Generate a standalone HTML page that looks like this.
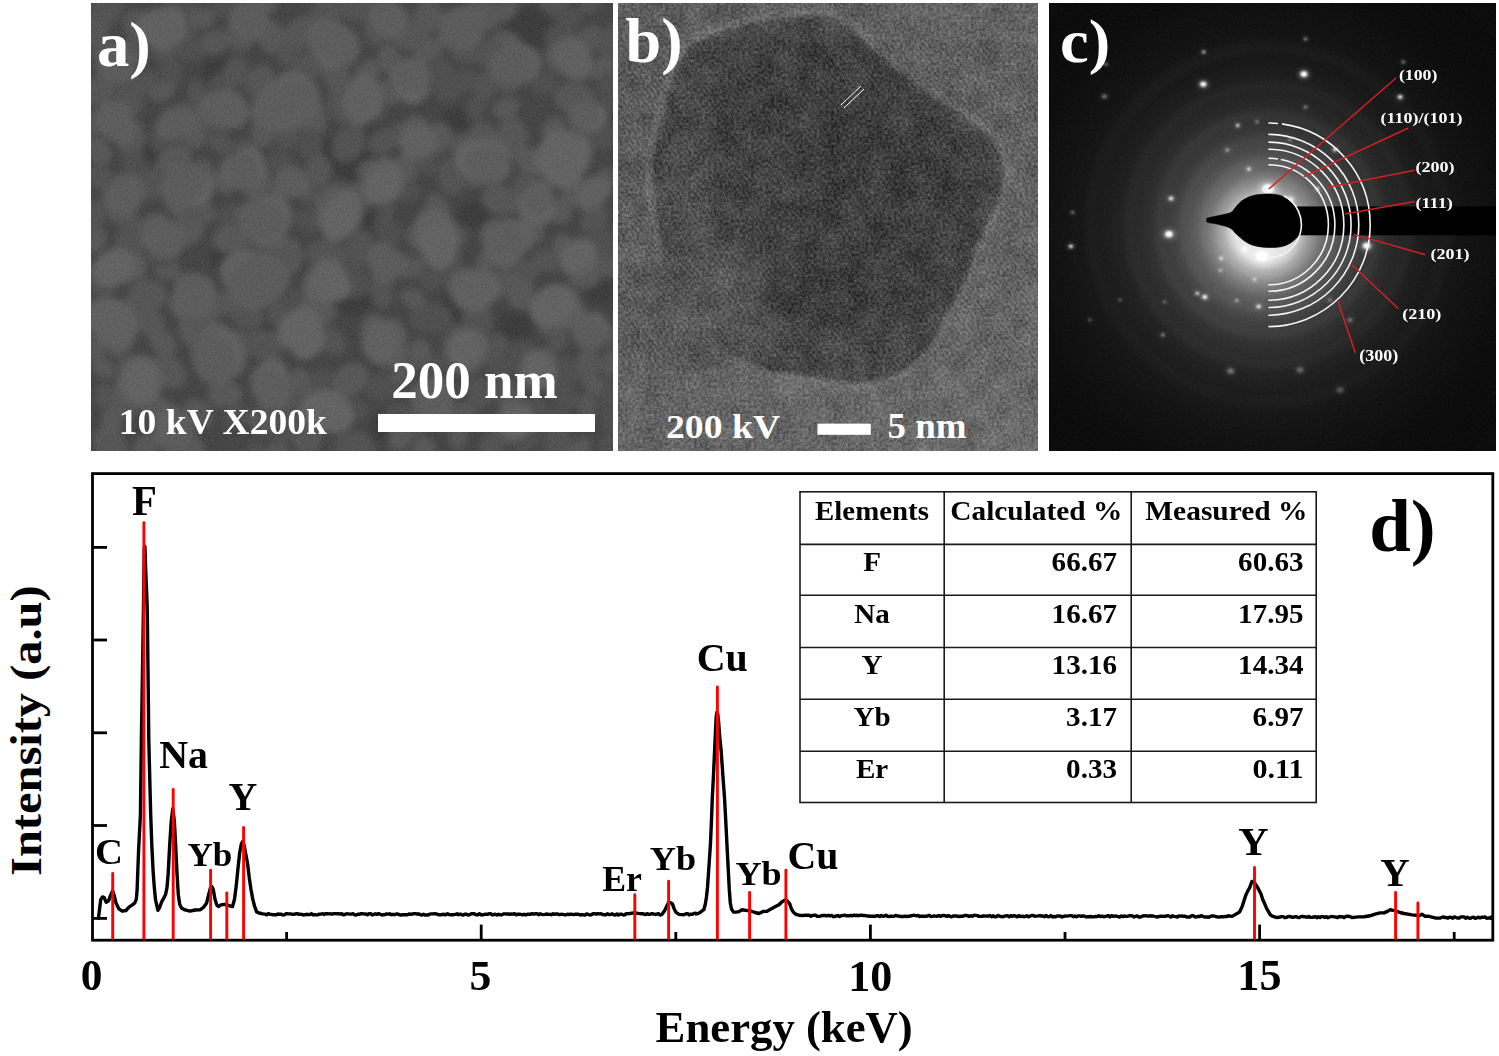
<!DOCTYPE html>
<html><head><meta charset="utf-8"><title>Figure</title>
<style>
html,body{margin:0;padding:0;background:#fff;}
body{width:1499px;height:1056px;overflow:hidden;}
svg{display:block;font-family:"Liberation Serif", serif;font-weight:bold;}
</style></head><body>
<svg width="1499" height="1056" viewBox="0 0 1499 1056">
<defs>
<filter id="blur6" x="-20%" y="-20%" width="140%" height="140%"><feGaussianBlur stdDeviation="6"/></filter>
<filter id="blur3" x="-20%" y="-20%" width="140%" height="140%"><feGaussianBlur stdDeviation="3"/></filter>
<filter id="blur2" x="-50%" y="-50%" width="200%" height="200%"><feGaussianBlur stdDeviation="2"/></filter>
<filter id="blur1" x="-50%" y="-50%" width="200%" height="200%"><feGaussianBlur stdDeviation="0.9"/></filter>
<filter id="blur10" x="-30%" y="-30%" width="160%" height="160%"><feGaussianBlur stdDeviation="10"/></filter>
<filter id="blurS" x="-10%" y="-10%" width="120%" height="120%"><feGaussianBlur stdDeviation="3.1"/></filter>
<filter id="grainS" x="0" y="0" width="100%" height="100%" color-interpolation-filters="sRGB">
  <feTurbulence type="fractalNoise" baseFrequency="0.5" numOctaves="2" seed="9" result="t"/>
  <feColorMatrix in="t" type="matrix" values="1 0 0 0 0  1 0 0 0 0  1 0 0 0 0  0 0 0 0 1" result="g"/>
  <feComposite in="SourceGraphic" in2="g" operator="arithmetic" k1="0" k2="1" k3="0.10" k4="-0.05"/>
</filter>
<filter id="grainT" x="0" y="0" width="100%" height="100%" color-interpolation-filters="sRGB">
  <feTurbulence type="fractalNoise" baseFrequency="0.35" numOctaves="3" seed="4" result="t"/>
  <feColorMatrix in="t" type="matrix" values="1 0 0 0 0  1 0 0 0 0  1 0 0 0 0  0 0 0 0 1" result="g"/>
  <feComposite in="SourceGraphic" in2="g" operator="arithmetic" k1="0" k2="1" k3="0.32" k4="-0.16" result="a"/>
  <feTurbulence type="fractalNoise" baseFrequency="0.045" numOctaves="2" seed="12" result="t2"/>
  <feColorMatrix in="t2" type="matrix" values="1 0 0 0 0  1 0 0 0 0  1 0 0 0 0  0 0 0 0 1" result="g2"/>
  <feComposite in="a" in2="g2" operator="arithmetic" k1="0" k2="1" k3="0.14" k4="-0.07"/>
</filter>
<filter id="grainC" x="0" y="0" width="100%" height="100%" color-interpolation-filters="sRGB">
  <feTurbulence type="fractalNoise" baseFrequency="0.5" numOctaves="2" seed="6" result="t"/>
  <feColorMatrix in="t" type="matrix" values="1 0 0 0 0  1 0 0 0 0  1 0 0 0 0  0 0 0 0 1" result="g"/>
  <feComposite in="SourceGraphic" in2="g" operator="arithmetic" k1="0" k2="1" k3="0.05" k4="-0.025"/>
</filter>
<filter id="noise" x="0" y="0" width="100%" height="100%">
  <feTurbulence type="fractalNoise" baseFrequency="0.9" numOctaves="2" seed="3" result="n"/>
  <feColorMatrix type="matrix" values="0 0 0 0 0.5  0 0 0 0 0.5  0 0 0 0 0.5  0 0 0 1.6 -0.55"/>
</filter>
<radialGradient id="glow" cx="0.5" cy="0.5" r="0.5">
  <stop offset="0.000" stop-color="rgb(235,235,235)"/>
  <stop offset="0.093" stop-color="rgb(228,228,228)"/>
  <stop offset="0.113" stop-color="rgb(208,208,208)"/>
  <stop offset="0.133" stop-color="rgb(178,178,178)"/>
  <stop offset="0.160" stop-color="rgb(145,145,145)"/>
  <stop offset="0.187" stop-color="rgb(118,118,118)"/>
  <stop offset="0.217" stop-color="rgb(98,98,98)"/>
  <stop offset="0.250" stop-color="rgb(83,83,83)"/>
  <stop offset="0.283" stop-color="rgb(71,71,71)"/>
  <stop offset="0.317" stop-color="rgb(61,61,61)"/>
  <stop offset="0.367" stop-color="rgb(50,50,50)"/>
  <stop offset="0.467" stop-color="rgb(35,35,35)"/>
  <stop offset="0.567" stop-color="rgb(25,25,25)"/>
  <stop offset="0.700" stop-color="rgb(18,18,18)"/>
  <stop offset="0.833" stop-color="rgb(13,13,13)"/>
  <stop offset="1.000" stop-color="rgb(11,11,11)"/>
</radialGradient>
<linearGradient id="temBg" x1="0" y1="0" x2="1" y2="1"><stop offset="0" stop-color="#5c5c5c"/><stop offset="1" stop-color="#6b6b6b"/></linearGradient>
<clipPath id="clipA"><rect x="91" y="3" width="522" height="448"/></clipPath>
<clipPath id="clipB"><rect x="618" y="3" width="420" height="448"/></clipPath>
<clipPath id="clipC"><rect x="1049" y="3" width="447" height="448"/></clipPath>
</defs>
<rect x="0" y="0" width="1499" height="1056" fill="#fff"/>

<g clip-path="url(#clipA)"><g filter="url(#grainS)">
<rect x="91" y="3" width="522" height="448" fill="#464646"/>
<g filter="url(#blurS)">
<ellipse cx="354.2" cy="164.3" rx="21.0" ry="17.2" fill="#3d3d3d"/>
<ellipse cx="528.2" cy="28.5" rx="25.6" ry="21.0" fill="#3d3d3d"/>
<ellipse cx="460.3" cy="121.8" rx="18.7" ry="15.3" fill="#3d3d3d"/>
<ellipse cx="456.0" cy="308.6" rx="18.7" ry="15.3" fill="#3d3d3d"/>
<ellipse cx="354.2" cy="300.1" rx="18.7" ry="15.3" fill="#3d3d3d"/>
<ellipse cx="473.0" cy="215.2" rx="16.4" ry="13.4" fill="#3d3d3d"/>
<ellipse cx="226.8" cy="257.7" rx="16.4" ry="13.4" fill="#3d3d3d"/>
<ellipse cx="141.9" cy="151.6" rx="16.4" ry="13.4" fill="#3d3d3d"/>
<ellipse cx="218.3" cy="70.9" rx="16.4" ry="13.4" fill="#3d3d3d"/>
<ellipse cx="600.3" cy="291.6" rx="16.4" ry="13.4" fill="#3d3d3d"/>
<ellipse cx="388.1" cy="427.4" rx="18.7" ry="15.3" fill="#3d3d3d"/>
<ellipse cx="515.4" cy="325.6" rx="18.7" ry="15.3" fill="#3d3d3d"/>
<ellipse cx="324.4" cy="151.6" rx="16.4" ry="13.4" fill="#3d3d3d"/>
<ellipse cx="260.8" cy="317.1" rx="16.4" ry="13.4" fill="#3d3d3d"/>
<ellipse cx="358.4" cy="130.3" rx="14.0" ry="11.4" fill="#3d3d3d"/>
<ellipse cx="362.6" cy="223.7" rx="16.4" ry="13.4" fill="#3d3d3d"/>
<ellipse transform="rotate(1 326.9 254.1)" cx="326.9" cy="254.1" rx="21.2" ry="15.6" fill="#535353"/>
<ellipse transform="rotate(164 185.5 232.4)" cx="185.5" cy="232.4" rx="18.4" ry="13.6" fill="#595959"/>
<ellipse transform="rotate(14 506.7 42.7)" cx="506.7" cy="42.7" rx="15.4" ry="11.4" fill="#595959"/>
<ellipse transform="rotate(175 135.9 367.6)" cx="135.9" cy="367.6" rx="19.0" ry="14.1" fill="#565656"/>
<ellipse transform="rotate(66 110.1 445.9)" cx="110.1" cy="445.9" rx="21.5" ry="15.9" fill="#565656"/>
<ellipse transform="rotate(157 433.3 279.5)" cx="433.3" cy="279.5" rx="14.1" ry="10.4" fill="#505050"/>
<ellipse transform="rotate(110 95.9 239.9)" cx="95.9" cy="239.9" rx="13.2" ry="9.8" fill="#595959"/>
<ellipse transform="rotate(147 188.4 109.8)" cx="188.4" cy="109.8" rx="12.9" ry="9.6" fill="#505050"/>
<ellipse transform="rotate(143 333.0 200.0)" cx="333.0" cy="200.0" rx="20.4" ry="15.1" fill="#595959"/>
<ellipse transform="rotate(58 437.8 207.6)" cx="437.8" cy="207.6" rx="15.2" ry="11.2" fill="#565656"/>
<ellipse transform="rotate(61 614.8 452.0)" cx="614.8" cy="452.0" rx="20.4" ry="15.1" fill="#505050"/>
<ellipse transform="rotate(165 461.7 143.1)" cx="461.7" cy="143.1" rx="14.8" ry="10.9" fill="#535353"/>
<ellipse transform="rotate(88 240.6 31.9)" cx="240.6" cy="31.9" rx="19.7" ry="14.6" fill="#565656"/>
<ellipse transform="rotate(89 299.4 384.3)" cx="299.4" cy="384.3" rx="16.2" ry="12.0" fill="#595959"/>
<ellipse transform="rotate(42 593.8 384.7)" cx="593.8" cy="384.7" rx="12.7" ry="9.4" fill="#595959"/>
<ellipse transform="rotate(42 198.7 413.3)" cx="198.7" cy="413.3" rx="17.0" ry="12.5" fill="#565656"/>
<ellipse transform="rotate(108 605.6 180.4)" cx="605.6" cy="180.4" rx="13.3" ry="9.8" fill="#565656"/>
<ellipse transform="rotate(84 420.4 353.4)" cx="420.4" cy="353.4" rx="15.1" ry="11.2" fill="#595959"/>
<ellipse transform="rotate(114 488.2 53.6)" cx="488.2" cy="53.6" rx="14.9" ry="11.0" fill="#535353"/>
<ellipse transform="rotate(43 141.4 27.2)" cx="141.4" cy="27.2" rx="20.0" ry="14.8" fill="#565656"/>
<ellipse transform="rotate(65 188.7 332.3)" cx="188.7" cy="332.3" rx="13.9" ry="10.2" fill="#595959"/>
<ellipse transform="rotate(128 427.9 52.9)" cx="427.9" cy="52.9" rx="16.5" ry="12.2" fill="#595959"/>
<ellipse transform="rotate(89 512.2 138.1)" cx="512.2" cy="138.1" rx="20.8" ry="15.4" fill="#565656"/>
<ellipse transform="rotate(109 199.3 179.0)" cx="199.3" cy="179.0" rx="20.5" ry="15.2" fill="#565656"/>
<ellipse transform="rotate(69 261.7 134.5)" cx="261.7" cy="134.5" rx="13.3" ry="9.8" fill="#595959"/>
<ellipse transform="rotate(71 135.6 264.6)" cx="135.6" cy="264.6" rx="14.9" ry="11.0" fill="#595959"/>
<ellipse transform="rotate(104 405.5 168.8)" cx="405.5" cy="168.8" rx="16.8" ry="12.4" fill="#595959"/>
<ellipse transform="rotate(101 594.4 219.6)" cx="594.4" cy="219.6" rx="17.9" ry="13.3" fill="#535353"/>
<ellipse transform="rotate(134 545.5 83.0)" cx="545.5" cy="83.0" rx="14.1" ry="10.4" fill="#505050"/>
<ellipse transform="rotate(64 567.6 371.3)" cx="567.6" cy="371.3" rx="14.9" ry="11.0" fill="#505050"/>
<ellipse transform="rotate(3 406.7 191.3)" cx="406.7" cy="191.3" rx="13.6" ry="10.1" fill="#505050"/>
<ellipse transform="rotate(157 402.9 133.2)" cx="402.9" cy="133.2" rx="14.3" ry="10.5" fill="#565656"/>
<ellipse transform="rotate(174 468.3 31.2)" cx="468.3" cy="31.2" rx="14.8" ry="10.9" fill="#535353"/>
<ellipse transform="rotate(167 383.3 387.0)" cx="383.3" cy="387.0" rx="18.3" ry="13.5" fill="#505050"/>
<ellipse transform="rotate(152 236.0 416.5)" cx="236.0" cy="416.5" rx="14.5" ry="10.7" fill="#505050"/>
<ellipse transform="rotate(173 96.8 122.2)" cx="96.8" cy="122.2" rx="16.8" ry="12.4" fill="#565656"/>
<ellipse transform="rotate(2 119.9 80.0)" cx="119.9" cy="80.0" rx="16.0" ry="11.9" fill="#505050"/>
<ellipse transform="rotate(70 390.1 59.7)" cx="390.1" cy="59.7" rx="16.0" ry="11.8" fill="#595959"/>
<ellipse transform="rotate(88 558.4 445.1)" cx="558.4" cy="445.1" rx="18.7" ry="13.8" fill="#535353"/>
<ellipse transform="rotate(106 453.0 265.3)" cx="453.0" cy="265.3" rx="13.9" ry="10.3" fill="#505050"/>
<ellipse transform="rotate(121 106.5 8.1)" cx="106.5" cy="8.1" rx="21.0" ry="15.5" fill="#535353"/>
<ellipse transform="rotate(86 458.1 437.1)" cx="458.1" cy="437.1" rx="12.8" ry="9.5" fill="#565656"/>
<ellipse transform="rotate(86 256.4 453.7)" cx="256.4" cy="453.7" rx="13.3" ry="9.9" fill="#505050"/>
<ellipse transform="rotate(75 376.3 334.6)" cx="376.3" cy="334.6" rx="20.9" ry="15.5" fill="#595959"/>
<ellipse transform="rotate(87 477.2 319.5)" cx="477.2" cy="319.5" rx="19.9" ry="14.7" fill="#535353"/>
<ellipse transform="rotate(28 571.1 159.7)" cx="571.1" cy="159.7" rx="19.0" ry="14.0" fill="#595959"/>
<ellipse transform="rotate(49 563.6 395.5)" cx="563.6" cy="395.5" rx="16.5" ry="12.2" fill="#505050"/>
<ellipse transform="rotate(16 505.4 392.0)" cx="505.4" cy="392.0" rx="17.9" ry="13.2" fill="#535353"/>
<ellipse transform="rotate(10 409.5 36.4)" cx="409.5" cy="36.4" rx="18.5" ry="13.7" fill="#565656"/>
<ellipse transform="rotate(91 612.5 399.4)" cx="612.5" cy="399.4" rx="19.3" ry="14.3" fill="#505050"/>
<ellipse transform="rotate(41 293.1 333.7)" cx="293.1" cy="333.7" rx="18.0" ry="13.3" fill="#565656"/>
<ellipse transform="rotate(135 320.6 380.6)" cx="320.6" cy="380.6" rx="13.4" ry="9.9" fill="#505050"/>
<ellipse transform="rotate(60 484.1 13.5)" cx="484.1" cy="13.5" rx="18.2" ry="13.4" fill="#595959"/>
<ellipse transform="rotate(82 341.9 104.5)" cx="341.9" cy="104.5" rx="19.1" ry="14.1" fill="#535353"/>
<ellipse transform="rotate(45 350.5 279.0)" cx="350.5" cy="279.0" rx="21.1" ry="15.6" fill="#505050"/>
<ellipse transform="rotate(154 223.1 5.1)" cx="223.1" cy="5.1" rx="15.4" ry="11.4" fill="#505050"/>
<ellipse transform="rotate(15 446.1 92.0)" cx="446.1" cy="92.0" rx="14.2" ry="10.5" fill="#505050"/>
<ellipse transform="rotate(35 566.2 299.6)" cx="566.2" cy="299.6" rx="16.7" ry="12.4" fill="#565656"/>
<ellipse transform="rotate(143 350.1 380.0)" cx="350.1" cy="380.0" rx="20.5" ry="15.1" fill="#595959"/>
<ellipse transform="rotate(59 177.3 204.6)" cx="177.3" cy="204.6" rx="15.2" ry="11.2" fill="#595959"/>
<ellipse transform="rotate(122 348.8 143.2)" cx="348.8" cy="143.2" rx="20.4" ry="15.1" fill="#535353"/>
<ellipse transform="rotate(80 104.6 396.3)" cx="104.6" cy="396.3" rx="13.0" ry="9.6" fill="#535353"/>
<ellipse transform="rotate(126 505.9 8.7)" cx="505.9" cy="8.7" rx="13.9" ry="10.3" fill="#595959"/>
<ellipse transform="rotate(141 328.2 11.2)" cx="328.2" cy="11.2" rx="20.3" ry="15.0" fill="#535353"/>
<ellipse transform="rotate(3 182.3 4.9)" cx="182.3" cy="4.9" rx="17.0" ry="12.6" fill="#505050"/>
<ellipse transform="rotate(155 465.1 81.3)" cx="465.1" cy="81.3" rx="15.2" ry="11.2" fill="#505050"/>
<ellipse transform="rotate(91 580.4 328.0)" cx="580.4" cy="328.0" rx="13.8" ry="10.2" fill="#535353"/>
<ellipse transform="rotate(112 287.0 258.2)" cx="287.0" cy="258.2" rx="20.7" ry="15.3" fill="#565656"/>
<ellipse transform="rotate(51 508.7 428.7)" cx="508.7" cy="428.7" rx="16.9" ry="12.5" fill="#565656"/>
<ellipse transform="rotate(78 520.1 291.3)" cx="520.1" cy="291.3" rx="19.3" ry="14.2" fill="#595959"/>
<ellipse transform="rotate(47 604.0 243.8)" cx="604.0" cy="243.8" rx="19.9" ry="14.7" fill="#505050"/>
<ellipse transform="rotate(89 272.0 37.6)" cx="272.0" cy="37.6" rx="16.7" ry="12.3" fill="#595959"/>
<ellipse transform="rotate(47 103.0 367.3)" cx="103.0" cy="367.3" rx="13.2" ry="9.8" fill="#595959"/>
<ellipse transform="rotate(119 510.3 78.5)" cx="510.3" cy="78.5" rx="15.7" ry="11.6" fill="#565656"/>
<ellipse transform="rotate(124 589.2 39.1)" cx="589.2" cy="39.1" rx="14.7" ry="10.9" fill="#565656"/>
<ellipse transform="rotate(12 425.3 237.3)" cx="425.3" cy="237.3" rx="20.4" ry="15.1" fill="#565656"/>
<ellipse transform="rotate(152 383.7 141.5)" cx="383.7" cy="141.5" rx="16.2" ry="11.9" fill="#535353"/>
<ellipse transform="rotate(139 534.3 408.8)" cx="534.3" cy="408.8" rx="14.6" ry="10.8" fill="#505050"/>
<ellipse transform="rotate(142 390.5 91.2)" cx="390.5" cy="91.2" rx="17.6" ry="13.0" fill="#565656"/>
<ellipse transform="rotate(92 511.0 255.5)" cx="511.0" cy="255.5" rx="17.2" ry="12.7" fill="#535353"/>
<ellipse transform="rotate(82 306.5 434.4)" cx="306.5" cy="434.4" rx="21.1" ry="15.6" fill="#565656"/>
<ellipse transform="rotate(159 230.1 214.8)" cx="230.1" cy="214.8" rx="13.8" ry="10.2" fill="#505050"/>
<ellipse transform="rotate(45 414.2 420.1)" cx="414.2" cy="420.1" rx="13.8" ry="10.2" fill="#595959"/>
<ellipse transform="rotate(129 208.0 311.9)" cx="208.0" cy="311.9" rx="15.6" ry="11.5" fill="#595959"/>
<ellipse transform="rotate(94 275.6 281.4)" cx="275.6" cy="281.4" rx="13.6" ry="10.1" fill="#565656"/>
<ellipse transform="rotate(99 220.3 89.8)" cx="220.3" cy="89.8" rx="17.5" ry="13.0" fill="#505050"/>
<ellipse transform="rotate(89 318.6 170.6)" cx="318.6" cy="170.6" rx="16.5" ry="12.2" fill="#565656"/>
<ellipse transform="rotate(136 367.5 72.5)" cx="367.5" cy="72.5" rx="14.5" ry="10.7" fill="#595959"/>
<ellipse transform="rotate(171 210.8 336.3)" cx="210.8" cy="336.3" rx="20.1" ry="14.9" fill="#595959"/>
<ellipse transform="rotate(14 575.2 99.0)" cx="575.2" cy="99.0" rx="21.8" ry="16.1" fill="#565656"/>
<ellipse transform="rotate(28 556.6 60.8)" cx="556.6" cy="60.8" rx="14.9" ry="11.0" fill="#505050"/>
<ellipse transform="rotate(71 527.4 191.4)" cx="527.4" cy="191.4" rx="19.9" ry="14.7" fill="#535353"/>
<ellipse transform="rotate(135 154.5 182.9)" cx="154.5" cy="182.9" rx="19.0" ry="14.0" fill="#535353"/>
<ellipse transform="rotate(163 97.4 91.2)" cx="97.4" cy="91.2" rx="18.9" ry="14.0" fill="#565656"/>
<ellipse transform="rotate(66 610.9 420.8)" cx="610.9" cy="420.8" rx="13.5" ry="10.0" fill="#505050"/>
<ellipse transform="rotate(138 360.1 195.3)" cx="360.1" cy="195.3" rx="18.2" ry="13.4" fill="#595959"/>
<ellipse transform="rotate(119 95.0 318.3)" cx="95.0" cy="318.3" rx="20.4" ry="15.1" fill="#505050"/>
<ellipse transform="rotate(99 302.0 88.6)" cx="302.0" cy="88.6" rx="14.2" ry="10.5" fill="#595959"/>
<ellipse transform="rotate(12 358.6 7.0)" cx="358.6" cy="7.0" rx="20.9" ry="15.4" fill="#535353"/>
<ellipse transform="rotate(4 354.3 446.1)" cx="354.3" cy="446.1" rx="20.1" ry="14.8" fill="#535353"/>
<ellipse transform="rotate(84 498.8 369.8)" cx="498.8" cy="369.8" rx="16.4" ry="12.1" fill="#505050"/>
<ellipse transform="rotate(144 493.1 347.4)" cx="493.1" cy="347.4" rx="16.4" ry="12.1" fill="#535353"/>
<ellipse transform="rotate(95 458.3 345.8)" cx="458.3" cy="345.8" rx="21.7" ry="16.0" fill="#535353"/>
<ellipse transform="rotate(40 100.0 279.4)" cx="100.0" cy="279.4" rx="19.4" ry="14.4" fill="#535353"/>
<ellipse transform="rotate(52 223.5 182.3)" cx="223.5" cy="182.3" rx="13.1" ry="9.7" fill="#595959"/>
<ellipse transform="rotate(83 111.8 422.3)" cx="111.8" cy="422.3" rx="14.1" ry="10.4" fill="#595959"/>
<ellipse transform="rotate(74 337.1 76.8)" cx="337.1" cy="76.8" rx="17.2" ry="12.7" fill="#565656"/>
<ellipse transform="rotate(158 244.3 6.4)" cx="244.3" cy="6.4" rx="14.9" ry="11.0" fill="#505050"/>
<ellipse transform="rotate(149 293.9 407.5)" cx="293.9" cy="407.5" rx="19.5" ry="14.4" fill="#535353"/>
<ellipse transform="rotate(105 475.7 108.2)" cx="475.7" cy="108.2" rx="13.7" ry="10.1" fill="#505050"/>
<ellipse transform="rotate(119 386.3 268.6)" cx="386.3" cy="268.6" rx="18.5" ry="13.7" fill="#535353"/>
<ellipse transform="rotate(115 485.8 86.2)" cx="485.8" cy="86.2" rx="14.9" ry="11.0" fill="#535353"/>
<ellipse transform="rotate(99 312.5 283.0)" cx="312.5" cy="283.0" rx="13.6" ry="10.0" fill="#565656"/>
<ellipse transform="rotate(77 374.0 32.9)" cx="374.0" cy="32.9" rx="13.4" ry="9.9" fill="#535353"/>
<ellipse transform="rotate(31 285.0 217.3)" cx="285.0" cy="217.3" rx="14.6" ry="10.8" fill="#505050"/>
<ellipse transform="rotate(159 127.3 54.4)" cx="127.3" cy="54.4" rx="20.1" ry="14.9" fill="#565656"/>
<ellipse transform="rotate(84 312.1 117.2)" cx="312.1" cy="117.2" rx="20.1" ry="14.9" fill="#595959"/>
<ellipse transform="rotate(12 259.8 249.1)" cx="259.8" cy="249.1" rx="19.5" ry="14.4" fill="#505050"/>
<ellipse transform="rotate(138 574.2 194.2)" cx="574.2" cy="194.2" rx="16.0" ry="11.9" fill="#595959"/>
<ellipse transform="rotate(81 139.2 397.3)" cx="139.2" cy="397.3" rx="13.4" ry="9.9" fill="#595959"/>
<ellipse transform="rotate(93 131.1 137.9)" cx="131.1" cy="137.9" rx="19.3" ry="14.3" fill="#565656"/>
<ellipse transform="rotate(56 150.0 322.0)" cx="150.0" cy="322.0" rx="17.9" ry="13.2" fill="#565656"/>
<ellipse transform="rotate(75 255.7 181.4)" cx="255.7" cy="181.4" rx="21.2" ry="15.7" fill="#595959"/>
<ellipse transform="rotate(66 281.0 164.9)" cx="281.0" cy="164.9" rx="16.3" ry="12.0" fill="#505050"/>
<ellipse transform="rotate(146 553.1 127.8)" cx="553.1" cy="127.8" rx="12.9" ry="9.5" fill="#595959"/>
<ellipse transform="rotate(97 360.3 247.0)" cx="360.3" cy="247.0" rx="17.9" ry="13.2" fill="#535353"/>
<ellipse transform="rotate(14 562.7 38.5)" cx="562.7" cy="38.5" rx="18.5" ry="13.7" fill="#505050"/>
<ellipse transform="rotate(142 461.9 415.4)" cx="461.9" cy="415.4" rx="16.4" ry="12.1" fill="#565656"/>
<ellipse transform="rotate(143 310.0 66.4)" cx="310.0" cy="66.4" rx="19.5" ry="14.4" fill="#535353"/>
<ellipse transform="rotate(12 148.6 294.2)" cx="148.6" cy="294.2" rx="19.8" ry="14.6" fill="#565656"/>
<ellipse transform="rotate(63 182.7 28.3)" cx="182.7" cy="28.3" rx="16.9" ry="12.5" fill="#535353"/>
<ellipse transform="rotate(162 396.4 412.8)" cx="396.4" cy="412.8" rx="13.0" ry="9.6" fill="#505050"/>
<ellipse transform="rotate(136 145.4 83.8)" cx="145.4" cy="83.8" rx="14.6" ry="10.8" fill="#535353"/>
<ellipse transform="rotate(89 588.3 363.8)" cx="588.3" cy="363.8" rx="16.2" ry="12.0" fill="#565656"/>
<ellipse transform="rotate(119 93.7 214.6)" cx="93.7" cy="214.6" rx="16.1" ry="11.9" fill="#535353"/>
<ellipse transform="rotate(81 171.0 71.2)" cx="171.0" cy="71.2" rx="15.6" ry="11.5" fill="#505050"/>
<ellipse transform="rotate(177 225.0 394.6)" cx="225.0" cy="394.6" rx="17.4" ry="12.9" fill="#595959"/>
<ellipse transform="rotate(86 424.3 450.9)" cx="424.3" cy="450.9" rx="15.1" ry="11.2" fill="#595959"/>
<ellipse transform="rotate(130 277.9 311.9)" cx="277.9" cy="311.9" rx="13.6" ry="10.1" fill="#535353"/>
<ellipse transform="rotate(94 385.9 208.0)" cx="385.9" cy="208.0" rx="12.7" ry="9.4" fill="#505050"/>
<ellipse transform="rotate(108 611.6 363.0)" cx="611.6" cy="363.0" rx="14.6" ry="10.8" fill="#565656"/>
<ellipse transform="rotate(122 295.1 302.7)" cx="295.1" cy="302.7" rx="15.0" ry="11.1" fill="#505050"/>
<ellipse transform="rotate(179 263.1 375.4)" cx="263.1" cy="375.4" rx="13.5" ry="10.0" fill="#565656"/>
<ellipse transform="rotate(84 162.4 42.9)" cx="162.4" cy="42.9" rx="18.9" ry="14.0" fill="#535353"/>
<ellipse transform="rotate(156 529.9 269.1)" cx="529.9" cy="269.1" rx="13.5" ry="10.0" fill="#535353"/>
<ellipse transform="rotate(154 302.8 33.0)" cx="302.8" cy="33.0" rx="21.1" ry="15.6" fill="#565656"/>
<ellipse transform="rotate(46 97.8 150.3)" cx="97.8" cy="150.3" rx="15.8" ry="11.7" fill="#595959"/>
<ellipse transform="rotate(44 410.8 71.9)" cx="410.8" cy="71.9" rx="19.7" ry="14.6" fill="#505050"/>
<ellipse transform="rotate(63 564.8 248.9)" cx="564.8" cy="248.9" rx="15.9" ry="11.7" fill="#595959"/>
<ellipse transform="rotate(27 261.8 421.8)" cx="261.8" cy="421.8" rx="16.0" ry="11.8" fill="#565656"/>
<ellipse transform="rotate(34 159.6 410.4)" cx="159.6" cy="410.4" rx="17.6" ry="13.0" fill="#595959"/>
<ellipse transform="rotate(5 183.1 448.1)" cx="183.1" cy="448.1" rx="21.3" ry="15.7" fill="#595959"/>
<ellipse transform="rotate(133 435.6 139.7)" cx="435.6" cy="139.7" rx="18.8" ry="13.9" fill="#595959"/>
<ellipse transform="rotate(148 477.5 173.3)" cx="477.5" cy="173.3" rx="18.1" ry="13.4" fill="#535353"/>
<ellipse transform="rotate(110 426.8 17.2)" cx="426.8" cy="17.2" rx="18.8" ry="13.9" fill="#565656"/>
<ellipse transform="rotate(52 485.0 138.4)" cx="485.0" cy="138.4" rx="18.1" ry="13.4" fill="#565656"/>
<ellipse transform="rotate(134 454.9 238.9)" cx="454.9" cy="238.9" rx="14.9" ry="11.0" fill="#535353"/>
<ellipse transform="rotate(35 439.5 393.4)" cx="439.5" cy="393.4" rx="16.5" ry="12.2" fill="#595959"/>
<ellipse transform="rotate(123 590.1 0.3)" cx="590.1" cy="0.3" rx="14.9" ry="11.0" fill="#535353"/>
<ellipse transform="rotate(16 246.0 147.4)" cx="246.0" cy="147.4" rx="13.2" ry="9.8" fill="#505050"/>
<ellipse transform="rotate(28 530.4 160.8)" cx="530.4" cy="160.8" rx="17.0" ry="12.6" fill="#595959"/>
<ellipse transform="rotate(66 194.7 287.1)" cx="194.7" cy="287.1" rx="14.4" ry="10.7" fill="#535353"/>
<ellipse transform="rotate(60 547.1 323.8)" cx="547.1" cy="323.8" rx="13.9" ry="10.3" fill="#565656"/>
<ellipse transform="rotate(44 129.7 101.3)" cx="129.7" cy="101.3" rx="15.5" ry="11.4" fill="#535353"/>
<ellipse transform="rotate(72 220.5 364.7)" cx="220.5" cy="364.7" rx="13.5" ry="9.9" fill="#505050"/>
<ellipse transform="rotate(52 238.6 343.1)" cx="238.6" cy="343.1" rx="14.9" ry="11.0" fill="#565656"/>
<ellipse transform="rotate(47 331.7 340.8)" cx="331.7" cy="340.8" rx="16.2" ry="12.0" fill="#535353"/>
<ellipse transform="rotate(77 381.6 292.8)" cx="381.6" cy="292.8" rx="16.0" ry="11.8" fill="#535353"/>
<ellipse transform="rotate(158 506.0 108.0)" cx="506.0" cy="108.0" rx="14.0" ry="10.3" fill="#595959"/>
<ellipse transform="rotate(151 120.3 186.4)" cx="120.3" cy="186.4" rx="16.0" ry="11.8" fill="#595959"/>
<ellipse transform="rotate(167 209.4 115.0)" cx="209.4" cy="115.0" rx="17.7" ry="13.1" fill="#595959"/>
<ellipse transform="rotate(30 556.0 210.0)" cx="556.0" cy="210.0" rx="16.3" ry="12.0" fill="#595959"/>
<ellipse transform="rotate(12 201.2 212.3)" cx="201.2" cy="212.3" rx="15.5" ry="11.4" fill="#565656"/>
<ellipse transform="rotate(102 126.4 313.9)" cx="126.4" cy="313.9" rx="16.0" ry="11.8" fill="#595959"/>
<ellipse transform="rotate(112 494.9 235.8)" cx="494.9" cy="235.8" rx="13.2" ry="9.7" fill="#505050"/>
<ellipse transform="rotate(174 167.7 270.3)" cx="167.7" cy="270.3" rx="12.9" ry="9.6" fill="#595959"/>
<ellipse transform="rotate(13 201.9 18.5)" cx="201.9" cy="18.5" rx="12.9" ry="9.5" fill="#595959"/>
<ellipse transform="rotate(2 603.1 135.3)" cx="603.1" cy="135.3" rx="18.8" ry="13.9" fill="#505050"/>
<ellipse transform="rotate(114 235.7 72.0)" cx="235.7" cy="72.0" rx="16.4" ry="12.1" fill="#535353"/>
<ellipse transform="rotate(168 214.6 42.2)" cx="214.6" cy="42.2" rx="15.8" ry="11.7" fill="#565656"/>
<ellipse transform="rotate(42 100.2 177.7)" cx="100.2" cy="177.7" rx="16.0" ry="11.8" fill="#535353"/>
<ellipse transform="rotate(74 259.9 115.0)" cx="259.9" cy="115.0" rx="12.9" ry="9.5" fill="#595959"/>
<ellipse transform="rotate(44 226.3 303.3)" cx="226.3" cy="303.3" rx="14.4" ry="10.6" fill="#565656"/>
<ellipse transform="rotate(153 495.3 284.8)" cx="495.3" cy="284.8" rx="18.4" ry="13.6" fill="#565656"/>
<ellipse transform="rotate(63 305.0 188.7)" cx="305.0" cy="188.7" rx="15.2" ry="11.2" fill="#535353"/>
<ellipse transform="rotate(11 568.3 17.3)" cx="568.3" cy="17.3" rx="13.9" ry="10.3" fill="#505050"/>
<ellipse transform="rotate(148 603.8 68.0)" cx="603.8" cy="68.0" rx="14.4" ry="10.7" fill="#595959"/>
<ellipse transform="rotate(148 526.8 439.8)" cx="526.8" cy="439.8" rx="15.7" ry="11.6" fill="#505050"/>
<ellipse transform="rotate(112 271.0 402.4)" cx="271.0" cy="402.4" rx="15.5" ry="11.5" fill="#535353"/>
<ellipse transform="rotate(68 283.1 129.7)" cx="283.1" cy="129.7" rx="19.5" ry="14.4" fill="#535353"/>
<ellipse transform="rotate(33 369.9 107.6)" cx="369.9" cy="107.6" rx="14.9" ry="11.0" fill="#565656"/>
<ellipse transform="rotate(125 259.6 80.7)" cx="259.6" cy="80.7" rx="17.4" ry="12.8" fill="#565656"/>
<ellipse transform="rotate(5 264.3 344.7)" cx="264.3" cy="344.7" rx="20.4" ry="15.1" fill="#535353"/>
<ellipse transform="rotate(121 580.8 448.9)" cx="580.8" cy="448.9" rx="13.1" ry="9.7" fill="#595959"/>
<ellipse transform="rotate(14 464.6 53.7)" cx="464.6" cy="53.7" rx="13.0" ry="9.6" fill="#535353"/>
<ellipse transform="rotate(122 492.1 445.4)" cx="492.1" cy="445.4" rx="16.2" ry="12.0" fill="#535353"/>
<ellipse transform="rotate(53 122.0 405.3)" cx="122.0" cy="405.3" rx="15.5" ry="11.5" fill="#565656"/>
<ellipse transform="rotate(67 614.5 91.8)" cx="614.5" cy="91.8" rx="20.6" ry="15.2" fill="#505050"/>
<ellipse transform="rotate(124 434.9 368.1)" cx="434.9" cy="368.1" rx="16.0" ry="11.8" fill="#505050"/>
<ellipse transform="rotate(70 424.9 160.7)" cx="424.9" cy="160.7" rx="15.2" ry="11.2" fill="#505050"/>
<ellipse transform="rotate(118 273.0 195.6)" cx="273.0" cy="195.6" rx="12.7" ry="9.4" fill="#535353"/>
<ellipse transform="rotate(128 145.2 448.3)" cx="145.2" cy="448.3" rx="16.6" ry="12.3" fill="#595959"/>
<ellipse transform="rotate(168 579.9 69.0)" cx="579.9" cy="69.0" rx="17.0" ry="12.5" fill="#565656"/>
<ellipse transform="rotate(180 612.2 335.0)" cx="612.2" cy="335.0" rx="15.5" ry="11.5" fill="#535353"/>
<ellipse transform="rotate(132 544.6 378.6)" cx="544.6" cy="378.6" rx="13.7" ry="10.1" fill="#535353"/>
<ellipse transform="rotate(86 235.1 273.8)" cx="235.1" cy="273.8" rx="19.0" ry="14.1" fill="#535353"/>
<ellipse transform="rotate(169 584.9 277.0)" cx="584.9" cy="277.0" rx="15.9" ry="11.8" fill="#595959"/>
<ellipse transform="rotate(80 134.7 165.1)" cx="134.7" cy="165.1" rx="16.1" ry="11.9" fill="#505050"/>
<ellipse transform="rotate(1 431.2 318.3)" cx="431.2" cy="318.3" rx="21.8" ry="16.1" fill="#505050"/>
<ellipse transform="rotate(143 123.1 209.9)" cx="123.1" cy="209.9" rx="16.3" ry="12.1" fill="#595959"/>
<ellipse transform="rotate(86 586.7 406.7)" cx="586.7" cy="406.7" rx="12.9" ry="9.5" fill="#565656"/>
<ellipse transform="rotate(43 169.2 371.6)" cx="169.2" cy="371.6" rx="19.4" ry="14.3" fill="#565656"/>
<ellipse transform="rotate(94 103.1 50.1)" cx="103.1" cy="50.1" rx="15.4" ry="11.4" fill="#565656"/>
<ellipse transform="rotate(61 261.6 222.0)" cx="261.6" cy="222.0" rx="18.7" ry="13.8" fill="#595959"/>
<ellipse transform="rotate(0 352.5 410.4)" cx="352.5" cy="410.4" rx="16.3" ry="12.0" fill="#505050"/>
<ellipse transform="rotate(126 401.3 436.2)" cx="401.3" cy="436.2" rx="16.0" ry="11.8" fill="#595959"/>
<ellipse transform="rotate(173 409.7 267.6)" cx="409.7" cy="267.6" rx="15.5" ry="11.5" fill="#565656"/>
<ellipse transform="rotate(98 520.6 357.9)" cx="520.6" cy="357.9" rx="18.6" ry="13.7" fill="#505050"/>
<ellipse transform="rotate(97 118.0 346.7)" cx="118.0" cy="346.7" rx="13.1" ry="9.7" fill="#505050"/>
<ellipse transform="rotate(104 485.4 263.2)" cx="485.4" cy="263.2" rx="12.7" ry="9.4" fill="#595959"/>
<ellipse transform="rotate(18 500.6 200.0)" cx="500.6" cy="200.0" rx="19.6" ry="14.5" fill="#565656"/>
<ellipse transform="rotate(81 452.1 176.2)" cx="452.1" cy="176.2" rx="19.8" ry="14.6" fill="#535353"/>
<ellipse transform="rotate(148 174.5 158.8)" cx="174.5" cy="158.8" rx="18.1" ry="13.4" fill="#595959"/>
<ellipse transform="rotate(77 308.3 220.6)" cx="308.3" cy="220.6" rx="13.4" ry="9.9" fill="#505050"/>
<ellipse transform="rotate(127 133.6 235.7)" cx="133.6" cy="235.7" rx="21.5" ry="15.9" fill="#535353"/>
<ellipse transform="rotate(176 88.4 30.8)" cx="88.4" cy="30.8" rx="20.0" ry="14.8" fill="#565656"/>
<ellipse transform="rotate(132 346.7 218.9)" cx="346.7" cy="218.9" rx="15.3" ry="11.3" fill="#595959"/>
<ellipse transform="rotate(69 532.1 228.4)" cx="532.1" cy="228.4" rx="15.8" ry="11.7" fill="#595959"/>
<ellipse transform="rotate(5 316.6 311.3)" cx="316.6" cy="311.3" rx="19.7" ry="14.5" fill="#595959"/>
<ellipse transform="rotate(30 246.6 314.1)" cx="246.6" cy="314.1" rx="19.0" ry="14.0" fill="#535353"/>
<ellipse transform="rotate(155 162.2 91.6)" cx="162.2" cy="91.6" rx="12.9" ry="9.6" fill="#595959"/>
<ellipse transform="rotate(14 188.9 50.9)" cx="188.9" cy="50.9" rx="14.5" ry="10.7" fill="#505050"/>
<ellipse transform="rotate(167 370.8 170.5)" cx="370.8" cy="170.5" rx="14.0" ry="10.4" fill="#595959"/>
<ellipse transform="rotate(52 388.0 230.6)" cx="388.0" cy="230.6" rx="16.2" ry="12.0" fill="#505050"/>
<ellipse transform="rotate(74 479.0 393.1)" cx="479.0" cy="393.1" rx="16.0" ry="11.8" fill="#535353"/>
<ellipse transform="rotate(57 267.2 0.5)" cx="267.2" cy="0.5" rx="12.7" ry="9.4" fill="#595959"/>
<ellipse transform="rotate(93 310.3 144.2)" cx="310.3" cy="144.2" rx="16.3" ry="12.1" fill="#505050"/>
<ellipse transform="rotate(152 276.7 453.8)" cx="276.7" cy="453.8" rx="13.1" ry="9.7" fill="#595959"/>
<ellipse transform="rotate(117 558.1 340.1)" cx="558.1" cy="340.1" rx="13.2" ry="9.8" fill="#535353"/>
<ellipse transform="rotate(85 161.9 248.0)" cx="161.9" cy="248.0" rx="21.4" ry="15.8" fill="#505050"/>
<ellipse transform="rotate(33 220.7 143.2)" cx="220.7" cy="143.2" rx="13.6" ry="10.0" fill="#535353"/>
<ellipse transform="rotate(83 287.8 53.1)" cx="287.8" cy="53.1" rx="14.0" ry="10.3" fill="#535353"/>
<ellipse transform="rotate(82 194.5 132.0)" cx="194.5" cy="132.0" rx="16.6" ry="12.2" fill="#595959"/>
<ellipse transform="rotate(34 546.3 260.8)" cx="546.3" cy="260.8" rx="13.8" ry="10.2" fill="#535353"/>
<ellipse transform="rotate(57 441.4 71.7)" cx="441.4" cy="71.7" rx="17.5" ry="13.0" fill="#505050"/>
<ellipse transform="rotate(120 96.0 347.5)" cx="96.0" cy="347.5" rx="14.8" ry="10.9" fill="#565656"/>
<ellipse transform="rotate(131 402.2 372.1)" cx="402.2" cy="372.1" rx="13.3" ry="9.8" fill="#595959"/>
<ellipse transform="rotate(167 554.4 3.2)" cx="554.4" cy="3.2" rx="14.7" ry="10.9" fill="#535353"/>
<ellipse transform="rotate(167 231.2 238.4)" cx="231.2" cy="238.4" rx="18.7" ry="13.9" fill="#595959"/>
<ellipse transform="rotate(173 259.2 290.2)" cx="259.2" cy="290.2" rx="14.0" ry="10.3" fill="#565656"/>
<ellipse transform="rotate(172 606.4 267.4)" cx="606.4" cy="267.4" rx="13.2" ry="9.8" fill="#565656"/>
<ellipse transform="rotate(132 282.3 431.8)" cx="282.3" cy="431.8" rx="15.5" ry="11.5" fill="#505050"/>
<ellipse transform="rotate(21 413.3 298.7)" cx="413.3" cy="298.7" rx="13.5" ry="10.0" fill="#565656"/>
<ellipse transform="rotate(32 339.5 52.0)" cx="339.5" cy="52.0" rx="18.6" ry="13.7" fill="#535353"/>
<ellipse transform="rotate(115 160.4 138.0)" cx="160.4" cy="138.0" rx="14.0" ry="10.3" fill="#505050"/>
<ellipse transform="rotate(178 554.0 419.3)" cx="554.0" cy="419.3" rx="15.1" ry="11.2" fill="#505050"/>
<ellipse transform="rotate(113 388.9 185.2)" cx="388.9" cy="185.2" rx="14.0" ry="10.3" fill="#595959"/>
<ellipse transform="rotate(74 197.1 93.0)" cx="197.1" cy="93.0" rx="12.8" ry="9.5" fill="#535353"/>
<ellipse transform="rotate(46 163.0 342.7)" cx="163.0" cy="342.7" rx="15.2" ry="11.2" fill="#595959"/>
<ellipse transform="rotate(126 614.3 40.3)" cx="614.3" cy="40.3" rx="20.6" ry="15.2" fill="#535353"/>
<ellipse transform="rotate(169 288.8 100.3)" cx="288.8" cy="100.3" rx="31.9" ry="25.1" fill="#5d5d5d"/>
<ellipse transform="rotate(79 294.2 98.7)" cx="294.2" cy="98.7" rx="28.4" ry="22.3" fill="#606060"/>
<ellipse transform="rotate(164 284.0 106.0)" cx="284.0" cy="106.0" rx="32.7" ry="25.7" fill="#5d5d5d"/>
<ellipse transform="rotate(153 563.2 155.4)" cx="563.2" cy="155.4" rx="30.4" ry="23.9" fill="#5b5b5b"/>
<ellipse transform="rotate(80 562.1 158.9)" cx="562.1" cy="158.9" rx="29.8" ry="23.4" fill="#646464"/>
<ellipse transform="rotate(161 563.4 158.3)" cx="563.4" cy="158.3" rx="28.7" ry="22.5" fill="#646464"/>
<ellipse transform="rotate(167 485.0 157.4)" cx="485.0" cy="157.4" rx="24.8" ry="19.4" fill="#606060"/>
<ellipse transform="rotate(39 477.3 162.1)" cx="477.3" cy="162.1" rx="24.6" ry="19.4" fill="#646464"/>
<ellipse transform="rotate(15 487.5 165.3)" cx="487.5" cy="165.3" rx="23.9" ry="18.8" fill="#5d5d5d"/>
<ellipse transform="rotate(25 334.1 43.3)" cx="334.1" cy="43.3" rx="27.0" ry="21.2" fill="#5d5d5d"/>
<ellipse transform="rotate(86 330.6 47.0)" cx="330.6" cy="47.0" rx="22.7" ry="17.8" fill="#606060"/>
<ellipse transform="rotate(39 330.4 39.4)" cx="330.4" cy="39.4" rx="24.6" ry="19.4" fill="#5d5d5d"/>
<ellipse transform="rotate(23 515.3 65.9)" cx="515.3" cy="65.9" rx="23.0" ry="18.0" fill="#606060"/>
<ellipse transform="rotate(178 516.3 63.7)" cx="516.3" cy="63.7" rx="24.8" ry="19.5" fill="#646464"/>
<ellipse transform="rotate(177 511.5 65.9)" cx="511.5" cy="65.9" rx="24.3" ry="19.1" fill="#5b5b5b"/>
<ellipse transform="rotate(178 256.9 279.4)" cx="256.9" cy="279.4" rx="32.3" ry="25.4" fill="#646464"/>
<ellipse transform="rotate(23 250.1 275.3)" cx="250.1" cy="275.3" rx="30.7" ry="24.1" fill="#606060"/>
<ellipse transform="rotate(137 258.7 281.6)" cx="258.7" cy="281.6" rx="32.6" ry="25.6" fill="#5b5b5b"/>
<ellipse transform="rotate(20 437.0 238.4)" cx="437.0" cy="238.4" rx="22.8" ry="17.9" fill="#646464"/>
<ellipse transform="rotate(68 436.4 234.4)" cx="436.4" cy="234.4" rx="27.2" ry="21.4" fill="#606060"/>
<ellipse transform="rotate(85 438.4 246.7)" cx="438.4" cy="246.7" rx="22.9" ry="18.0" fill="#646464"/>
<ellipse transform="rotate(122 182.6 186.6)" cx="182.6" cy="186.6" rx="24.2" ry="19.0" fill="#5d5d5d"/>
<ellipse transform="rotate(31 190.2 184.3)" cx="190.2" cy="184.3" rx="24.8" ry="19.5" fill="#646464"/>
<ellipse transform="rotate(141 183.4 184.8)" cx="183.4" cy="184.8" rx="25.0" ry="19.6" fill="#5b5b5b"/>
<ellipse transform="rotate(15 117.3 321.4)" cx="117.3" cy="321.4" rx="23.2" ry="18.3" fill="#5b5b5b"/>
<ellipse transform="rotate(72 115.2 328.4)" cx="115.2" cy="328.4" rx="25.5" ry="20.0" fill="#5d5d5d"/>
<ellipse transform="rotate(40 111.7 320.6)" cx="111.7" cy="320.6" rx="26.9" ry="21.2" fill="#606060"/>
<ellipse transform="rotate(125 166.2 26.8)" cx="166.2" cy="26.8" rx="20.9" ry="16.4" fill="#646464"/>
<ellipse transform="rotate(15 161.8 28.3)" cx="161.8" cy="28.3" rx="23.5" ry="18.5" fill="#646464"/>
<ellipse transform="rotate(70 162.3 29.5)" cx="162.3" cy="29.5" rx="22.2" ry="17.4" fill="#606060"/>
<ellipse transform="rotate(25 221.2 109.3)" cx="221.2" cy="109.3" rx="20.6" ry="16.2" fill="#606060"/>
<ellipse transform="rotate(164 226.7 112.3)" cx="226.7" cy="112.3" rx="22.0" ry="17.3" fill="#5b5b5b"/>
<ellipse transform="rotate(52 230.7 108.5)" cx="230.7" cy="108.5" rx="21.1" ry="16.5" fill="#5d5d5d"/>
<ellipse transform="rotate(74 358.0 105.3)" cx="358.0" cy="105.3" rx="21.3" ry="16.7" fill="#5d5d5d"/>
<ellipse transform="rotate(87 364.2 97.0)" cx="364.2" cy="97.0" rx="22.9" ry="18.0" fill="#646464"/>
<ellipse transform="rotate(109 364.2 96.5)" cx="364.2" cy="96.5" rx="21.3" ry="16.7" fill="#606060"/>
<ellipse transform="rotate(54 410.4 79.9)" cx="410.4" cy="79.9" rx="20.9" ry="16.4" fill="#606060"/>
<ellipse transform="rotate(91 412.6 81.5)" cx="412.6" cy="81.5" rx="22.7" ry="17.9" fill="#646464"/>
<ellipse transform="rotate(15 409.9 76.3)" cx="409.9" cy="76.3" rx="21.3" ry="16.8" fill="#5d5d5d"/>
<ellipse transform="rotate(26 462.0 28.1)" cx="462.0" cy="28.1" rx="23.1" ry="18.1" fill="#646464"/>
<ellipse transform="rotate(1 460.4 33.8)" cx="460.4" cy="33.8" rx="23.0" ry="18.1" fill="#5b5b5b"/>
<ellipse transform="rotate(151 463.7 24.8)" cx="463.7" cy="24.8" rx="23.6" ry="18.6" fill="#5b5b5b"/>
<ellipse transform="rotate(42 565.7 57.7)" cx="565.7" cy="57.7" rx="19.9" ry="15.7" fill="#5b5b5b"/>
<ellipse transform="rotate(64 574.5 58.2)" cx="574.5" cy="58.2" rx="21.1" ry="16.6" fill="#646464"/>
<ellipse transform="rotate(63 573.4 56.7)" cx="573.4" cy="56.7" rx="20.9" ry="16.4" fill="#606060"/>
<ellipse transform="rotate(6 179.1 121.1)" cx="179.1" cy="121.1" rx="19.2" ry="15.1" fill="#5b5b5b"/>
<ellipse transform="rotate(164 175.9 124.9)" cx="175.9" cy="124.9" rx="20.4" ry="16.0" fill="#646464"/>
<ellipse transform="rotate(165 177.9 124.3)" cx="177.9" cy="124.3" rx="20.7" ry="16.3" fill="#5b5b5b"/>
<ellipse transform="rotate(34 116.8 126.3)" cx="116.8" cy="126.3" rx="19.2" ry="15.1" fill="#646464"/>
<ellipse transform="rotate(58 113.7 120.4)" cx="113.7" cy="120.4" rx="20.0" ry="15.7" fill="#606060"/>
<ellipse transform="rotate(85 117.7 120.7)" cx="117.7" cy="120.7" rx="20.7" ry="16.2" fill="#5d5d5d"/>
<ellipse transform="rotate(97 129.4 192.9)" cx="129.4" cy="192.9" rx="19.3" ry="15.2" fill="#5b5b5b"/>
<ellipse transform="rotate(91 126.2 195.1)" cx="126.2" cy="195.1" rx="20.0" ry="15.7" fill="#5b5b5b"/>
<ellipse transform="rotate(170 122.6 197.6)" cx="122.6" cy="197.6" rx="19.9" ry="15.6" fill="#5d5d5d"/>
<ellipse transform="rotate(107 271.2 217.8)" cx="271.2" cy="217.8" rx="24.3" ry="19.1" fill="#606060"/>
<ellipse transform="rotate(40 266.2 228.8)" cx="266.2" cy="228.8" rx="23.3" ry="18.3" fill="#5d5d5d"/>
<ellipse transform="rotate(5 259.5 218.1)" cx="259.5" cy="218.1" rx="23.2" ry="18.2" fill="#5b5b5b"/>
<ellipse transform="rotate(142 339.0 213.0)" cx="339.0" cy="213.0" rx="24.2" ry="19.0" fill="#5d5d5d"/>
<ellipse transform="rotate(93 345.3 213.0)" cx="345.3" cy="213.0" rx="21.5" ry="16.9" fill="#646464"/>
<ellipse transform="rotate(122 339.1 220.4)" cx="339.1" cy="220.4" rx="21.5" ry="16.9" fill="#646464"/>
<ellipse transform="rotate(83 386.8 176.8)" cx="386.8" cy="176.8" rx="19.6" ry="15.4" fill="#606060"/>
<ellipse transform="rotate(65 384.3 181.4)" cx="384.3" cy="181.4" rx="21.8" ry="17.1" fill="#5d5d5d"/>
<ellipse transform="rotate(133 383.2 185.1)" cx="383.2" cy="185.1" rx="21.0" ry="16.5" fill="#646464"/>
<ellipse transform="rotate(91 533.1 206.7)" cx="533.1" cy="206.7" rx="20.0" ry="15.7" fill="#606060"/>
<ellipse transform="rotate(43 537.2 207.5)" cx="537.2" cy="207.5" rx="18.2" ry="14.3" fill="#646464"/>
<ellipse transform="rotate(105 538.3 197.9)" cx="538.3" cy="197.9" rx="18.8" ry="14.8" fill="#5d5d5d"/>
<ellipse transform="rotate(167 595.2 190.1)" cx="595.2" cy="190.1" rx="16.5" ry="12.9" fill="#606060"/>
<ellipse transform="rotate(148 592.6 189.6)" cx="592.6" cy="189.6" rx="16.1" ry="12.6" fill="#606060"/>
<ellipse transform="rotate(135 591.9 195.8)" cx="591.9" cy="195.8" rx="16.5" ry="13.0" fill="#606060"/>
<ellipse transform="rotate(15 512.2 236.5)" cx="512.2" cy="236.5" rx="22.2" ry="17.4" fill="#606060"/>
<ellipse transform="rotate(75 501.4 244.7)" cx="501.4" cy="244.7" rx="23.1" ry="18.1" fill="#606060"/>
<ellipse transform="rotate(20 502.6 237.6)" cx="502.6" cy="237.6" rx="22.3" ry="17.6" fill="#5d5d5d"/>
<ellipse transform="rotate(95 584.1 256.7)" cx="584.1" cy="256.7" rx="18.4" ry="14.4" fill="#5d5d5d"/>
<ellipse transform="rotate(118 576.9 257.2)" cx="576.9" cy="257.2" rx="20.2" ry="15.8" fill="#5b5b5b"/>
<ellipse transform="rotate(133 577.4 256.2)" cx="577.4" cy="256.2" rx="18.9" ry="14.8" fill="#646464"/>
<ellipse transform="rotate(87 157.9 235.3)" cx="157.9" cy="235.3" rx="21.8" ry="17.1" fill="#5b5b5b"/>
<ellipse transform="rotate(155 164.5 237.5)" cx="164.5" cy="237.5" rx="21.2" ry="16.7" fill="#5b5b5b"/>
<ellipse transform="rotate(38 162.6 237.9)" cx="162.6" cy="237.9" rx="23.4" ry="18.4" fill="#5d5d5d"/>
<ellipse transform="rotate(104 326.3 277.0)" cx="326.3" cy="277.0" rx="21.2" ry="16.6" fill="#5d5d5d"/>
<ellipse transform="rotate(137 325.5 283.0)" cx="325.5" cy="283.0" rx="23.2" ry="18.3" fill="#606060"/>
<ellipse transform="rotate(34 330.8 283.3)" cx="330.8" cy="283.3" rx="20.9" ry="16.4" fill="#646464"/>
<ellipse transform="rotate(160 388.8 265.0)" cx="388.8" cy="265.0" rx="18.8" ry="14.7" fill="#5d5d5d"/>
<ellipse transform="rotate(77 383.2 261.4)" cx="383.2" cy="261.4" rx="19.4" ry="15.2" fill="#5d5d5d"/>
<ellipse transform="rotate(103 386.3 267.3)" cx="386.3" cy="267.3" rx="18.1" ry="14.3" fill="#5b5b5b"/>
<ellipse transform="rotate(20 470.9 287.9)" cx="470.9" cy="287.9" rx="24.0" ry="18.8" fill="#5b5b5b"/>
<ellipse transform="rotate(23 470.9 294.5)" cx="470.9" cy="294.5" rx="20.7" ry="16.3" fill="#646464"/>
<ellipse transform="rotate(174 475.7 289.9)" cx="475.7" cy="289.9" rx="24.5" ry="19.3" fill="#606060"/>
<ellipse transform="rotate(50 558.2 307.5)" cx="558.2" cy="307.5" rx="20.8" ry="16.3" fill="#606060"/>
<ellipse transform="rotate(177 563.6 312.2)" cx="563.6" cy="312.2" rx="21.4" ry="16.8" fill="#5d5d5d"/>
<ellipse transform="rotate(143 552.6 305.3)" cx="552.6" cy="305.3" rx="24.4" ry="19.2" fill="#646464"/>
<ellipse transform="rotate(54 194.8 294.6)" cx="194.8" cy="294.6" rx="24.3" ry="19.1" fill="#5b5b5b"/>
<ellipse transform="rotate(150 192.8 300.4)" cx="192.8" cy="300.4" rx="24.3" ry="19.1" fill="#5b5b5b"/>
<ellipse transform="rotate(131 194.2 297.2)" cx="194.2" cy="297.2" rx="24.3" ry="19.1" fill="#5d5d5d"/>
<ellipse transform="rotate(77 145.2 378.0)" cx="145.2" cy="378.0" rx="23.4" ry="18.4" fill="#5b5b5b"/>
<ellipse transform="rotate(156 137.7 381.9)" cx="137.7" cy="381.9" rx="23.6" ry="18.5" fill="#5d5d5d"/>
<ellipse transform="rotate(90 140.8 381.8)" cx="140.8" cy="381.8" rx="23.0" ry="18.1" fill="#646464"/>
<ellipse transform="rotate(46 221.4 354.1)" cx="221.4" cy="354.1" rx="27.3" ry="21.4" fill="#5d5d5d"/>
<ellipse transform="rotate(64 222.1 352.3)" cx="222.1" cy="352.3" rx="27.3" ry="21.4" fill="#606060"/>
<ellipse transform="rotate(64 213.6 360.2)" cx="213.6" cy="360.2" rx="27.1" ry="21.3" fill="#5b5b5b"/>
<ellipse transform="rotate(56 305.7 334.9)" cx="305.7" cy="334.9" rx="22.0" ry="17.3" fill="#646464"/>
<ellipse transform="rotate(103 306.4 339.2)" cx="306.4" cy="339.2" rx="20.6" ry="16.2" fill="#646464"/>
<ellipse transform="rotate(141 300.0 328.6)" cx="300.0" cy="328.6" rx="24.1" ry="19.0" fill="#646464"/>
<ellipse transform="rotate(22 384.7 347.8)" cx="384.7" cy="347.8" rx="23.7" ry="18.6" fill="#5b5b5b"/>
<ellipse transform="rotate(114 386.3 342.2)" cx="386.3" cy="342.2" rx="24.4" ry="19.2" fill="#5b5b5b"/>
<ellipse transform="rotate(90 380.4 341.5)" cx="380.4" cy="341.5" rx="21.6" ry="16.9" fill="#606060"/>
<ellipse transform="rotate(133 468.1 355.9)" cx="468.1" cy="355.9" rx="20.9" ry="16.4" fill="#5d5d5d"/>
<ellipse transform="rotate(164 466.8 346.5)" cx="466.8" cy="346.5" rx="21.0" ry="16.5" fill="#606060"/>
<ellipse transform="rotate(97 463.2 348.4)" cx="463.2" cy="348.4" rx="18.4" ry="14.5" fill="#646464"/>
<ellipse transform="rotate(165 539.4 363.7)" cx="539.4" cy="363.7" rx="18.6" ry="14.6" fill="#5b5b5b"/>
<ellipse transform="rotate(89 536.3 369.9)" cx="536.3" cy="369.9" rx="20.4" ry="16.0" fill="#606060"/>
<ellipse transform="rotate(42 540.0 372.1)" cx="540.0" cy="372.1" rx="18.3" ry="14.4" fill="#646464"/>
<ellipse transform="rotate(91 594.6 330.4)" cx="594.6" cy="330.4" rx="18.2" ry="14.3" fill="#5d5d5d"/>
<ellipse transform="rotate(122 589.8 330.1)" cx="589.8" cy="330.1" rx="18.9" ry="14.8" fill="#606060"/>
<ellipse transform="rotate(57 590.5 335.2)" cx="590.5" cy="335.2" rx="16.2" ry="12.7" fill="#5b5b5b"/>
<ellipse transform="rotate(97 117.6 265.8)" cx="117.6" cy="265.8" rx="18.2" ry="14.3" fill="#646464"/>
<ellipse transform="rotate(177 119.9 266.7)" cx="119.9" cy="266.7" rx="21.8" ry="17.2" fill="#5d5d5d"/>
<ellipse transform="rotate(139 112.2 267.5)" cx="112.2" cy="267.5" rx="21.4" ry="16.9" fill="#646464"/>
<ellipse transform="rotate(107 270.6 380.2)" cx="270.6" cy="380.2" rx="22.0" ry="17.3" fill="#646464"/>
<ellipse transform="rotate(59 270.8 383.2)" cx="270.8" cy="383.2" rx="20.7" ry="16.3" fill="#606060"/>
<ellipse transform="rotate(46 270.4 390.0)" cx="270.4" cy="390.0" rx="21.9" ry="17.2" fill="#5d5d5d"/>
<ellipse transform="rotate(28 323.9 410.8)" cx="323.9" cy="410.8" rx="21.0" ry="16.5" fill="#5b5b5b"/>
<ellipse transform="rotate(27 330.4 412.6)" cx="330.4" cy="412.6" rx="24.3" ry="19.1" fill="#646464"/>
<ellipse transform="rotate(3 325.7 409.0)" cx="325.7" cy="409.0" rx="24.5" ry="19.2" fill="#646464"/>
<ellipse transform="rotate(100 171.1 427.6)" cx="171.1" cy="427.6" rx="21.7" ry="17.1" fill="#5d5d5d"/>
<ellipse transform="rotate(49 175.7 428.7)" cx="175.7" cy="428.7" rx="19.6" ry="15.4" fill="#646464"/>
<ellipse transform="rotate(89 180.1 431.0)" cx="180.1" cy="431.0" rx="19.3" ry="15.2" fill="#5b5b5b"/>
<ellipse transform="rotate(133 435.6 404.9)" cx="435.6" cy="404.9" rx="20.6" ry="16.2" fill="#606060"/>
<ellipse transform="rotate(145 433.3 397.3)" cx="433.3" cy="397.3" rx="21.1" ry="16.6" fill="#5d5d5d"/>
<ellipse transform="rotate(14 430.2 397.3)" cx="430.2" cy="397.3" rx="20.9" ry="16.4" fill="#5d5d5d"/>
<ellipse transform="rotate(115 511.2 414.6)" cx="511.2" cy="414.6" rx="16.6" ry="13.0" fill="#606060"/>
<ellipse transform="rotate(134 515.9 414.6)" cx="515.9" cy="414.6" rx="16.7" ry="13.1" fill="#5b5b5b"/>
<ellipse transform="rotate(152 516.7 423.2)" cx="516.7" cy="423.2" rx="18.9" ry="14.9" fill="#646464"/>
<ellipse transform="rotate(6 248.0 20.6)" cx="248.0" cy="20.6" rx="19.3" ry="15.2" fill="#5d5d5d"/>
<ellipse transform="rotate(103 251.5 20.7)" cx="251.5" cy="20.7" rx="21.6" ry="17.0" fill="#5d5d5d"/>
<ellipse transform="rotate(53 249.5 21.5)" cx="249.5" cy="21.5" rx="20.9" ry="16.4" fill="#5b5b5b"/>
<ellipse transform="rotate(126 392.5 22.6)" cx="392.5" cy="22.6" rx="18.9" ry="14.9" fill="#5d5d5d"/>
<ellipse transform="rotate(18 387.5 15.8)" cx="387.5" cy="15.8" rx="18.4" ry="14.5" fill="#5d5d5d"/>
<ellipse transform="rotate(118 386.3 18.0)" cx="386.3" cy="18.0" rx="18.9" ry="14.9" fill="#5d5d5d"/>
<ellipse transform="rotate(72 417.8 134.9)" cx="417.8" cy="134.9" rx="19.2" ry="15.1" fill="#5b5b5b"/>
<ellipse transform="rotate(133 418.6 142.6)" cx="418.6" cy="142.6" rx="20.1" ry="15.8" fill="#5d5d5d"/>
<ellipse transform="rotate(5 417.2 142.2)" cx="417.2" cy="142.2" rx="18.7" ry="14.7" fill="#606060"/>
<ellipse transform="rotate(30 240.6 172.1)" cx="240.6" cy="172.1" rx="21.0" ry="16.5" fill="#606060"/>
<ellipse transform="rotate(86 248.8 167.2)" cx="248.8" cy="167.2" rx="21.7" ry="17.1" fill="#606060"/>
<ellipse transform="rotate(77 243.7 170.0)" cx="243.7" cy="170.0" rx="18.2" ry="14.3" fill="#5b5b5b"/>
<ellipse transform="rotate(42 294.2 180.8)" cx="294.2" cy="180.8" rx="17.2" ry="13.5" fill="#5d5d5d"/>
<ellipse transform="rotate(160 288.9 185.0)" cx="288.9" cy="185.0" rx="16.0" ry="12.5" fill="#5d5d5d"/>
<ellipse transform="rotate(72 288.6 182.9)" cx="288.6" cy="182.9" rx="16.1" ry="12.6" fill="#5b5b5b"/>
<ellipse transform="rotate(146 591.2 118.1)" cx="591.2" cy="118.1" rx="17.4" ry="13.7" fill="#646464"/>
<ellipse transform="rotate(147 583.4 114.6)" cx="583.4" cy="114.6" rx="16.6" ry="13.1" fill="#5d5d5d"/>
<ellipse transform="rotate(112 586.2 117.3)" cx="586.2" cy="117.3" rx="16.2" ry="12.8" fill="#5d5d5d"/>
<ellipse transform="rotate(64 120.2 64.0)" cx="120.2" cy="64.0" rx="20.9" ry="16.4" fill="#5b5b5b"/>
<ellipse transform="rotate(76 118.1 62.3)" cx="118.1" cy="62.3" rx="19.9" ry="15.6" fill="#5b5b5b"/>
<ellipse transform="rotate(176 114.0 66.3)" cx="114.0" cy="66.3" rx="19.3" ry="15.2" fill="#5b5b5b"/>
</g>
</g></g>
<text x="96.91" y="66.08" font-size="63.97" textLength="53.93" lengthAdjust="spacingAndGlyphs" fill="#fff">a)</text>
<text x="391.17" y="397.70" font-size="53.08" textLength="166.53" lengthAdjust="spacingAndGlyphs" fill="#fff" >200 nm</text>
<rect x="378" y="414" width="217" height="18" fill="#fff"/>
<text x="118.80" y="433.80" font-size="36.75" textLength="208.15" lengthAdjust="spacingAndGlyphs" fill="#fff" >10 kV X200k</text>
<g clip-path="url(#clipB)"><g filter="url(#grainT)">
<rect x="618" y="3" width="420" height="448" fill="url(#temBg)"/>
<path d="M685.9,49.7 C691.2,43.5 697.9,41.5 705.0,38.0 C712.1,34.5 719.1,31.3 728.3,28.5 C737.5,25.7 750.1,22.8 760.0,21.0 C769.9,19.2 779.0,18.8 787.7,17.8 C796.4,16.8 804.9,15.3 812.0,15.0 C819.1,14.7 824.1,13.9 830.1,15.7 C836.1,17.5 842.3,21.8 848.0,26.0 C853.7,30.2 858.8,36.2 864.1,41.2 C869.4,46.2 874.4,51.0 880.0,56.0 C885.6,61.0 891.7,65.9 898.0,70.9 C904.3,75.9 910.9,81.0 918.0,86.0 C925.1,91.0 933.1,95.8 940.4,100.6 C947.7,105.4 954.9,110.0 962.0,115.0 C969.1,120.0 977.4,125.6 982.9,130.3 C988.4,135.0 991.8,138.1 995.0,143.0 C998.2,147.9 1000.7,153.8 1002.0,160.0 C1003.3,166.2 1003.4,173.6 1003.0,180.0 C1002.6,186.4 1001.6,192.4 999.8,198.2 C998.0,204.0 994.8,209.3 992.0,215.0 C989.2,220.7 985.9,225.4 982.9,232.1 C979.9,238.8 976.8,247.2 974.0,255.0 C971.2,262.8 968.6,272.3 965.9,278.8 C963.2,285.3 960.8,289.1 958.0,294.0 C955.2,298.9 951.7,303.3 948.9,308.5 C946.1,313.7 943.8,319.4 941.0,325.0 C938.2,330.6 935.8,336.9 932.0,342.4 C928.2,347.9 923.0,353.1 918.0,358.0 C913.0,362.9 908.0,368.6 902.3,372.1 C896.6,375.6 890.4,377.2 884.0,379.0 C877.6,380.8 872.1,382.4 864.1,382.7 C856.1,383.0 845.2,382.1 836.0,381.0 C826.8,379.9 817.7,377.7 808.9,376.4 C800.1,375.1 791.5,374.4 783.0,373.0 C774.5,371.6 765.8,370.6 758.0,367.9 C750.2,365.2 743.1,361.2 736.0,357.0 C728.9,352.8 722.1,347.6 715.6,342.4 C709.1,337.2 702.7,331.6 697.0,326.0 C691.3,320.4 685.9,314.8 681.6,308.5 C677.3,302.2 673.8,295.1 671.0,288.0 C668.2,280.9 666.7,274.0 664.7,266.0 C662.7,258.0 660.4,248.5 659.0,240.0 C657.6,231.5 657.2,223.4 656.2,215.1 C655.2,206.8 653.7,198.5 653.0,190.0 C652.3,181.5 651.5,173.4 652.0,164.2 C652.5,155.0 653.9,144.2 656.0,135.0 C658.1,125.8 662.7,116.3 664.7,109.1 C666.7,101.9 666.6,97.7 668.0,92.0 C669.4,86.3 670.2,82.1 673.2,75.1 C676.2,68.0 680.6,55.9 685.9,49.7Z" fill="none" stroke="#777" stroke-width="10" stroke-linejoin="round" filter="url(#blur3)" opacity="0.9"/>
<path d="M685.9,49.7 C691.2,43.5 697.9,41.5 705.0,38.0 C712.1,34.5 719.1,31.3 728.3,28.5 C737.5,25.7 750.1,22.8 760.0,21.0 C769.9,19.2 779.0,18.8 787.7,17.8 C796.4,16.8 804.9,15.3 812.0,15.0 C819.1,14.7 824.1,13.9 830.1,15.7 C836.1,17.5 842.3,21.8 848.0,26.0 C853.7,30.2 858.8,36.2 864.1,41.2 C869.4,46.2 874.4,51.0 880.0,56.0 C885.6,61.0 891.7,65.9 898.0,70.9 C904.3,75.9 910.9,81.0 918.0,86.0 C925.1,91.0 933.1,95.8 940.4,100.6 C947.7,105.4 954.9,110.0 962.0,115.0 C969.1,120.0 977.4,125.6 982.9,130.3 C988.4,135.0 991.8,138.1 995.0,143.0 C998.2,147.9 1000.7,153.8 1002.0,160.0 C1003.3,166.2 1003.4,173.6 1003.0,180.0 C1002.6,186.4 1001.6,192.4 999.8,198.2 C998.0,204.0 994.8,209.3 992.0,215.0 C989.2,220.7 985.9,225.4 982.9,232.1 C979.9,238.8 976.8,247.2 974.0,255.0 C971.2,262.8 968.6,272.3 965.9,278.8 C963.2,285.3 960.8,289.1 958.0,294.0 C955.2,298.9 951.7,303.3 948.9,308.5 C946.1,313.7 943.8,319.4 941.0,325.0 C938.2,330.6 935.8,336.9 932.0,342.4 C928.2,347.9 923.0,353.1 918.0,358.0 C913.0,362.9 908.0,368.6 902.3,372.1 C896.6,375.6 890.4,377.2 884.0,379.0 C877.6,380.8 872.1,382.4 864.1,382.7 C856.1,383.0 845.2,382.1 836.0,381.0 C826.8,379.9 817.7,377.7 808.9,376.4 C800.1,375.1 791.5,374.4 783.0,373.0 C774.5,371.6 765.8,370.6 758.0,367.9 C750.2,365.2 743.1,361.2 736.0,357.0 C728.9,352.8 722.1,347.6 715.6,342.4 C709.1,337.2 702.7,331.6 697.0,326.0 C691.3,320.4 685.9,314.8 681.6,308.5 C677.3,302.2 673.8,295.1 671.0,288.0 C668.2,280.9 666.7,274.0 664.7,266.0 C662.7,258.0 660.4,248.5 659.0,240.0 C657.6,231.5 657.2,223.4 656.2,215.1 C655.2,206.8 653.7,198.5 653.0,190.0 C652.3,181.5 651.5,173.4 652.0,164.2 C652.5,155.0 653.9,144.2 656.0,135.0 C658.1,125.8 662.7,116.3 664.7,109.1 C666.7,101.9 666.6,97.7 668.0,92.0 C669.4,86.3 670.2,82.1 673.2,75.1 C676.2,68.0 680.6,55.9 685.9,49.7Z" fill="#4b4b4b" filter="url(#blur2)"/>
<ellipse cx="712" cy="305" rx="68" ry="62" fill="#585858" filter="url(#blur10)"/>
<ellipse cx="690" cy="320" rx="30" ry="30" fill="#5c5c5c" filter="url(#blur10)"/>
<ellipse cx="690" cy="200" rx="25" ry="60" fill="#515151" filter="url(#blur10)"/>
<path d="M724.9,46.9 C740.3,38.3 783.4,31.6 806.2,32.2 C829.0,32.8 843.1,40.1 861.6,50.6 C880.1,61.1 899.8,81.4 917.0,94.9 C934.2,108.5 953.9,118.4 965.0,131.9 C976.1,145.4 982.2,159.6 983.4,176.2 C984.6,192.8 977.9,215.0 972.4,231.6 C966.9,248.2 957.6,262.4 950.2,275.9 C942.8,289.4 939.7,303.6 928.0,312.8 C916.3,322.0 897.2,330.7 880.0,331.3 C862.8,331.9 841.2,324.5 824.6,316.5 C808.0,308.5 792.6,296.2 780.3,283.3 C768.0,270.4 759.4,253.8 750.8,239.0 C742.2,224.2 734.1,211.2 728.6,194.6 C723.1,178.0 720.0,157.6 717.5,139.2 C715.0,120.7 712.7,99.3 713.9,83.9 C715.1,68.5 709.5,55.5 724.9,46.9Z" fill="#434343" filter="url(#blur10)"/>
<ellipse cx="860" cy="150" rx="40" ry="30" fill="#3d3d3d" filter="url(#blur10)"/>
<ellipse cx="910" cy="175" rx="35" ry="30" fill="#3f3f3f" filter="url(#blur10)"/>
<ellipse cx="800" cy="300" rx="40" ry="18" fill="#3b3b3b" filter="url(#blur10)"/>
<ellipse cx="760" cy="190" rx="40" ry="30" fill="#474747" filter="url(#blur10)"/>
<ellipse cx="830" cy="220" rx="40" ry="30" fill="#424242" filter="url(#blur10)"/>
<g opacity="0.10" stroke="#000" stroke-width="1.5">
<line x1="370.0" y1="40" x2="630.0" y2="370"/>
<line x1="375.5" y1="40" x2="635.5" y2="370"/>
<line x1="381.0" y1="40" x2="641.0" y2="370"/>
<line x1="386.5" y1="40" x2="646.5" y2="370"/>
<line x1="392.0" y1="40" x2="652.0" y2="370"/>
<line x1="397.5" y1="40" x2="657.5" y2="370"/>
<line x1="403.0" y1="40" x2="663.0" y2="370"/>
<line x1="408.5" y1="40" x2="668.5" y2="370"/>
<line x1="414.0" y1="40" x2="674.0" y2="370"/>
<line x1="419.5" y1="40" x2="679.5" y2="370"/>
<line x1="425.0" y1="40" x2="685.0" y2="370"/>
<line x1="430.5" y1="40" x2="690.5" y2="370"/>
<line x1="436.0" y1="40" x2="696.0" y2="370"/>
<line x1="441.5" y1="40" x2="701.5" y2="370"/>
<line x1="447.0" y1="40" x2="707.0" y2="370"/>
<line x1="452.5" y1="40" x2="712.5" y2="370"/>
<line x1="458.0" y1="40" x2="718.0" y2="370"/>
<line x1="463.5" y1="40" x2="723.5" y2="370"/>
<line x1="469.0" y1="40" x2="729.0" y2="370"/>
<line x1="474.5" y1="40" x2="734.5" y2="370"/>
<line x1="480.0" y1="40" x2="740.0" y2="370"/>
<line x1="485.5" y1="40" x2="745.5" y2="370"/>
<line x1="491.0" y1="40" x2="751.0" y2="370"/>
<line x1="496.5" y1="40" x2="756.5" y2="370"/>
<line x1="502.0" y1="40" x2="762.0" y2="370"/>
<line x1="507.5" y1="40" x2="767.5" y2="370"/>
<line x1="513.0" y1="40" x2="773.0" y2="370"/>
<line x1="518.5" y1="40" x2="778.5" y2="370"/>
<line x1="524.0" y1="40" x2="784.0" y2="370"/>
<line x1="529.5" y1="40" x2="789.5" y2="370"/>
<line x1="535.0" y1="40" x2="795.0" y2="370"/>
<line x1="540.5" y1="40" x2="800.5" y2="370"/>
<line x1="546.0" y1="40" x2="806.0" y2="370"/>
<line x1="551.5" y1="40" x2="811.5" y2="370"/>
<line x1="557.0" y1="40" x2="817.0" y2="370"/>
<line x1="562.5" y1="40" x2="822.5" y2="370"/>
<line x1="568.0" y1="40" x2="828.0" y2="370"/>
<line x1="573.5" y1="40" x2="833.5" y2="370"/>
<line x1="579.0" y1="40" x2="839.0" y2="370"/>
<line x1="584.5" y1="40" x2="844.5" y2="370"/>
<line x1="590.0" y1="40" x2="850.0" y2="370"/>
<line x1="595.5" y1="40" x2="855.5" y2="370"/>
<line x1="601.0" y1="40" x2="861.0" y2="370"/>
<line x1="606.5" y1="40" x2="866.5" y2="370"/>
<line x1="612.0" y1="40" x2="872.0" y2="370"/>
<line x1="617.5" y1="40" x2="877.5" y2="370"/>
<line x1="623.0" y1="40" x2="883.0" y2="370"/>
<line x1="628.5" y1="40" x2="888.5" y2="370"/>
<line x1="634.0" y1="40" x2="894.0" y2="370"/>
<line x1="639.5" y1="40" x2="899.5" y2="370"/>
<line x1="645.0" y1="40" x2="905.0" y2="370"/>
<line x1="650.5" y1="40" x2="910.5" y2="370"/>
<line x1="656.0" y1="40" x2="916.0" y2="370"/>
<line x1="661.5" y1="40" x2="921.5" y2="370"/>
<line x1="667.0" y1="40" x2="927.0" y2="370"/>
<line x1="672.5" y1="40" x2="932.5" y2="370"/>
<line x1="678.0" y1="40" x2="938.0" y2="370"/>
<line x1="683.5" y1="40" x2="943.5" y2="370"/>
<line x1="689.0" y1="40" x2="949.0" y2="370"/>
<line x1="694.5" y1="40" x2="954.5" y2="370"/>
<line x1="700.0" y1="40" x2="960.0" y2="370"/>
<line x1="705.5" y1="40" x2="965.5" y2="370"/>
<line x1="711.0" y1="40" x2="971.0" y2="370"/>
<line x1="716.5" y1="40" x2="976.5" y2="370"/>
<line x1="722.0" y1="40" x2="982.0" y2="370"/>
<line x1="727.5" y1="40" x2="987.5" y2="370"/>
<line x1="733.0" y1="40" x2="993.0" y2="370"/>
<line x1="738.5" y1="40" x2="998.5" y2="370"/>
<line x1="744.0" y1="40" x2="1004.0" y2="370"/>
<line x1="749.5" y1="40" x2="1009.5" y2="370"/>
<line x1="755.0" y1="40" x2="1015.0" y2="370"/>
<line x1="760.5" y1="40" x2="1020.5" y2="370"/>
<line x1="766.0" y1="40" x2="1026.0" y2="370"/>
<line x1="771.5" y1="40" x2="1031.5" y2="370"/>
<line x1="777.0" y1="40" x2="1037.0" y2="370"/>
<line x1="782.5" y1="40" x2="1042.5" y2="370"/>
<line x1="788.0" y1="40" x2="1048.0" y2="370"/>
<line x1="793.5" y1="40" x2="1053.5" y2="370"/>
<line x1="799.0" y1="40" x2="1059.0" y2="370"/>
<line x1="804.5" y1="40" x2="1064.5" y2="370"/>
<line x1="810.0" y1="40" x2="1070.0" y2="370"/>
<line x1="815.5" y1="40" x2="1075.5" y2="370"/>
<line x1="821.0" y1="40" x2="1081.0" y2="370"/>
<line x1="826.5" y1="40" x2="1086.5" y2="370"/>
<line x1="832.0" y1="40" x2="1092.0" y2="370"/>
<line x1="837.5" y1="40" x2="1097.5" y2="370"/>
<line x1="843.0" y1="40" x2="1103.0" y2="370"/>
<line x1="848.5" y1="40" x2="1108.5" y2="370"/>
<line x1="854.0" y1="40" x2="1114.0" y2="370"/>
<line x1="859.5" y1="40" x2="1119.5" y2="370"/>
<line x1="865.0" y1="40" x2="1125.0" y2="370"/>
<line x1="870.5" y1="40" x2="1130.5" y2="370"/>
<line x1="876.0" y1="40" x2="1136.0" y2="370"/>
<line x1="881.5" y1="40" x2="1141.5" y2="370"/>
<line x1="887.0" y1="40" x2="1147.0" y2="370"/>
<line x1="892.5" y1="40" x2="1152.5" y2="370"/>
<line x1="898.0" y1="40" x2="1158.0" y2="370"/>
<line x1="903.5" y1="40" x2="1163.5" y2="370"/>
<line x1="909.0" y1="40" x2="1169.0" y2="370"/>
<line x1="914.5" y1="40" x2="1174.5" y2="370"/>
<line x1="920.0" y1="40" x2="1180.0" y2="370"/>
<line x1="925.5" y1="40" x2="1185.5" y2="370"/>
<line x1="931.0" y1="40" x2="1191.0" y2="370"/>
<line x1="936.5" y1="40" x2="1196.5" y2="370"/>
<line x1="942.0" y1="40" x2="1202.0" y2="370"/>
<line x1="947.5" y1="40" x2="1207.5" y2="370"/>
<line x1="953.0" y1="40" x2="1213.0" y2="370"/>
<line x1="958.5" y1="40" x2="1218.5" y2="370"/>
<line x1="964.0" y1="40" x2="1224.0" y2="370"/>
<line x1="969.5" y1="40" x2="1229.5" y2="370"/>
<line x1="975.0" y1="40" x2="1235.0" y2="370"/>
<line x1="980.5" y1="40" x2="1240.5" y2="370"/>
<line x1="986.0" y1="40" x2="1246.0" y2="370"/>
<line x1="991.5" y1="40" x2="1251.5" y2="370"/>
<line x1="997.0" y1="40" x2="1257.0" y2="370"/>
<line x1="1002.5" y1="40" x2="1262.5" y2="370"/>
<line x1="1008.0" y1="40" x2="1268.0" y2="370"/>
<line x1="1013.5" y1="40" x2="1273.5" y2="370"/>
<line x1="1019.0" y1="40" x2="1279.0" y2="370"/>
<line x1="1024.5" y1="40" x2="1284.5" y2="370"/>
</g>
</g></g>
<line x1="841" y1="105" x2="861" y2="86" stroke="#fff" stroke-width="1"/>
<line x1="844" y1="108" x2="864" y2="89" stroke="#fff" stroke-width="1"/>
<text x="625.49" y="62.11" font-size="63.86" textLength="57.03" lengthAdjust="spacingAndGlyphs" fill="#fff">b)</text>
<text x="666.02" y="437.60" font-size="34.30" textLength="114.11" lengthAdjust="spacingAndGlyphs" fill="#fff" >200 kV</text>
<rect x="817.5" y="423.6" width="53.3" height="11.2" fill="#fff"/>
<text x="887.52" y="437.60" font-size="35.28" textLength="79.11" lengthAdjust="spacingAndGlyphs" fill="#fff" >5 nm</text>
<g clip-path="url(#clipC)"><g filter="url(#grainC)">
<rect x="1049" y="3" width="447" height="448" fill="#0d0d0d"/>
<circle cx="1263.4" cy="232.8" r="300" fill="url(#glow)"/>
<circle cx="1268.4" cy="224.8" r="47" fill="none" stroke="#9a9a9a" stroke-width="8" opacity="0.22" filter="url(#blur3)"/>
<circle cx="1268.4" cy="224.8" r="64" fill="none" stroke="#9a9a9a" stroke-width="6" opacity="0.12" filter="url(#blur3)"/>
<circle cx="1268.4" cy="224.8" r="86" fill="none" stroke="#9a9a9a" stroke-width="7" opacity="0.08" filter="url(#blur3)"/>
<circle cx="1268.4" cy="224.8" r="110" fill="none" stroke="#9a9a9a" stroke-width="9" opacity="0.07" filter="url(#blur3)"/>
<circle cx="1268.4" cy="224.8" r="140" fill="none" stroke="#9a9a9a" stroke-width="10" opacity="0.045" filter="url(#blur3)"/>
<circle cx="1268.4" cy="224.8" r="178" fill="none" stroke="#9a9a9a" stroke-width="12" opacity="0.035" filter="url(#blur3)"/>
<ellipse cx="1203.7" cy="52" rx="3.2" ry="2.6" fill="#fff" opacity="0.17" filter="url(#blur2)"/>
<ellipse cx="1203.7" cy="52" rx="1.7" ry="1.4" fill="#fff" opacity="0.70" filter="url(#blur1)"/>
<ellipse cx="1203.3" cy="84.2" rx="5.6" ry="4.5" fill="#fff" opacity="0.25" filter="url(#blur2)"/>
<ellipse cx="1203.3" cy="84.2" rx="3.0" ry="2.4" fill="#fff" opacity="1.00" filter="url(#blur1)"/>
<ellipse cx="1106" cy="64.2" rx="2.9" ry="2.3" fill="#fff" opacity="0.12" filter="url(#blur2)"/>
<ellipse cx="1106" cy="64.2" rx="1.5" ry="1.3" fill="#fff" opacity="0.50" filter="url(#blur1)"/>
<ellipse cx="1104.4" cy="96.5" rx="4.8" ry="3.9" fill="#fff" opacity="0.09" filter="url(#blur2)"/>
<ellipse cx="1104.4" cy="96.5" rx="2.5" ry="2.1" fill="#fff" opacity="0.35" filter="url(#blur1)"/>
<ellipse cx="1237.7" cy="125.5" rx="3.2" ry="2.6" fill="#fff" opacity="0.23" filter="url(#blur2)"/>
<ellipse cx="1237.7" cy="125.5" rx="1.7" ry="1.4" fill="#fff" opacity="0.90" filter="url(#blur1)"/>
<ellipse cx="1257" cy="121.8" rx="2.9" ry="2.3" fill="#fff" opacity="0.12" filter="url(#blur2)"/>
<ellipse cx="1257" cy="121.8" rx="1.5" ry="1.3" fill="#fff" opacity="0.50" filter="url(#blur1)"/>
<ellipse cx="1248.8" cy="168.9" rx="3.5" ry="2.9" fill="#fff" opacity="0.23" filter="url(#blur2)"/>
<ellipse cx="1248.8" cy="168.9" rx="1.9" ry="1.5" fill="#fff" opacity="0.90" filter="url(#blur1)"/>
<ellipse cx="1171" cy="198.5" rx="4.2" ry="3.4" fill="#fff" opacity="0.25" filter="url(#blur2)"/>
<ellipse cx="1171" cy="198.5" rx="2.2" ry="1.8" fill="#fff" opacity="1.00" filter="url(#blur1)"/>
<ellipse cx="1072.6" cy="212.5" rx="3.2" ry="2.6" fill="#fff" opacity="0.10" filter="url(#blur2)"/>
<ellipse cx="1072.6" cy="212.5" rx="1.7" ry="1.4" fill="#fff" opacity="0.40" filter="url(#blur1)"/>
<ellipse cx="1227.3" cy="150" rx="4.0" ry="3.2" fill="#fff" opacity="0.11" filter="url(#blur2)"/>
<ellipse cx="1227.3" cy="150" rx="2.1" ry="1.8" fill="#fff" opacity="0.45" filter="url(#blur1)"/>
<ellipse cx="1168.9" cy="234.2" rx="7.2" ry="5.9" fill="#fff" opacity="0.25" filter="url(#blur2)"/>
<ellipse cx="1168.9" cy="234.2" rx="3.8" ry="3.1" fill="#fff" opacity="1.00" filter="url(#blur1)"/>
<ellipse cx="1070.9" cy="246.3" rx="3.5" ry="2.9" fill="#fff" opacity="0.25" filter="url(#blur2)"/>
<ellipse cx="1070.9" cy="246.3" rx="1.9" ry="1.5" fill="#fff" opacity="1.00" filter="url(#blur1)"/>
<ellipse cx="1204.8" cy="297" rx="4.5" ry="3.6" fill="#fff" opacity="0.25" filter="url(#blur2)"/>
<ellipse cx="1204.8" cy="297" rx="2.4" ry="2.0" fill="#fff" opacity="1.00" filter="url(#blur1)"/>
<ellipse cx="1197.3" cy="293.3" rx="3.2" ry="2.6" fill="#fff" opacity="0.23" filter="url(#blur2)"/>
<ellipse cx="1197.3" cy="293.3" rx="1.7" ry="1.4" fill="#fff" opacity="0.90" filter="url(#blur1)"/>
<ellipse cx="1258.6" cy="306.4" rx="3.7" ry="3.0" fill="#fff" opacity="0.25" filter="url(#blur2)"/>
<ellipse cx="1258.6" cy="306.4" rx="2.0" ry="1.6" fill="#fff" opacity="1.00" filter="url(#blur1)"/>
<ellipse cx="1236.7" cy="300.5" rx="2.6" ry="2.1" fill="#fff" opacity="0.23" filter="url(#blur2)"/>
<ellipse cx="1236.7" cy="300.5" rx="1.4" ry="1.1" fill="#fff" opacity="0.90" filter="url(#blur1)"/>
<ellipse cx="1221.2" cy="258.3" rx="3.2" ry="2.6" fill="#fff" opacity="0.23" filter="url(#blur2)"/>
<ellipse cx="1221.2" cy="258.3" rx="1.7" ry="1.4" fill="#fff" opacity="0.90" filter="url(#blur1)"/>
<ellipse cx="1244.4" cy="247.3" rx="3.2" ry="2.6" fill="#fff" opacity="0.23" filter="url(#blur2)"/>
<ellipse cx="1244.4" cy="247.3" rx="1.7" ry="1.4" fill="#fff" opacity="0.90" filter="url(#blur1)"/>
<ellipse cx="1254.6" cy="279.5" rx="2.9" ry="2.3" fill="#fff" opacity="0.20" filter="url(#blur2)"/>
<ellipse cx="1254.6" cy="279.5" rx="1.5" ry="1.3" fill="#fff" opacity="0.80" filter="url(#blur1)"/>
<ellipse cx="1220.3" cy="270.3" rx="2.6" ry="2.1" fill="#fff" opacity="0.20" filter="url(#blur2)"/>
<ellipse cx="1220.3" cy="270.3" rx="1.4" ry="1.1" fill="#fff" opacity="0.80" filter="url(#blur1)"/>
<ellipse cx="1162.8" cy="334.9" rx="3.2" ry="2.6" fill="#fff" opacity="0.12" filter="url(#blur2)"/>
<ellipse cx="1162.8" cy="334.9" rx="1.7" ry="1.4" fill="#fff" opacity="0.50" filter="url(#blur1)"/>
<ellipse cx="1230.6" cy="371" rx="6.4" ry="5.2" fill="#fff" opacity="0.07" filter="url(#blur2)"/>
<ellipse cx="1230.6" cy="371" rx="3.4" ry="2.8" fill="#fff" opacity="0.30" filter="url(#blur1)"/>
<ellipse cx="1164.5" cy="302" rx="2.6" ry="2.1" fill="#fff" opacity="0.12" filter="url(#blur2)"/>
<ellipse cx="1164.5" cy="302" rx="1.4" ry="1.1" fill="#fff" opacity="0.50" filter="url(#blur1)"/>
<ellipse cx="1366.7" cy="245.8" rx="7.2" ry="5.9" fill="#fff" opacity="0.25" filter="url(#blur2)"/>
<ellipse cx="1366.7" cy="245.8" rx="3.8" ry="3.1" fill="#fff" opacity="1.00" filter="url(#blur1)"/>
<ellipse cx="1303.9" cy="74.1" rx="6.4" ry="5.2" fill="#fff" opacity="0.25" filter="url(#blur2)"/>
<ellipse cx="1303.9" cy="74.1" rx="3.4" ry="2.8" fill="#fff" opacity="1.00" filter="url(#blur1)"/>
<ellipse cx="1400.2" cy="97" rx="4.0" ry="3.2" fill="#fff" opacity="0.25" filter="url(#blur2)"/>
<ellipse cx="1400.2" cy="97" rx="2.1" ry="1.8" fill="#fff" opacity="1.00" filter="url(#blur1)"/>
<ellipse cx="1305.5" cy="39" rx="3.2" ry="2.6" fill="#fff" opacity="0.12" filter="url(#blur2)"/>
<ellipse cx="1305.5" cy="39" rx="1.7" ry="1.4" fill="#fff" opacity="0.50" filter="url(#blur1)"/>
<ellipse cx="1305.5" cy="107" rx="3.2" ry="2.6" fill="#fff" opacity="0.11" filter="url(#blur2)"/>
<ellipse cx="1305.5" cy="107" rx="1.7" ry="1.4" fill="#fff" opacity="0.45" filter="url(#blur1)"/>
<ellipse cx="1403.3" cy="62" rx="3.2" ry="2.6" fill="#fff" opacity="0.11" filter="url(#blur2)"/>
<ellipse cx="1403.3" cy="62" rx="1.7" ry="1.4" fill="#fff" opacity="0.45" filter="url(#blur1)"/>
<ellipse cx="1335" cy="149.6" rx="3.5" ry="2.9" fill="#fff" opacity="0.25" filter="url(#blur2)"/>
<ellipse cx="1335" cy="149.6" rx="1.9" ry="1.5" fill="#fff" opacity="1.00" filter="url(#blur1)"/>
<ellipse cx="1317.5" cy="189" rx="3.2" ry="2.6" fill="#fff" opacity="0.23" filter="url(#blur2)"/>
<ellipse cx="1317.5" cy="189" rx="1.7" ry="1.4" fill="#fff" opacity="0.90" filter="url(#blur1)"/>
<ellipse cx="1290" cy="140" rx="2.4" ry="2.0" fill="#fff" opacity="0.15" filter="url(#blur2)"/>
<ellipse cx="1290" cy="140" rx="1.3" ry="1.0" fill="#fff" opacity="0.60" filter="url(#blur1)"/>
<ellipse cx="1350" cy="320" rx="4.8" ry="3.9" fill="#fff" opacity="0.07" filter="url(#blur2)"/>
<ellipse cx="1350" cy="320" rx="2.5" ry="2.1" fill="#fff" opacity="0.30" filter="url(#blur1)"/>
<ellipse cx="1330" cy="300" rx="4.8" ry="3.9" fill="#fff" opacity="0.06" filter="url(#blur2)"/>
<ellipse cx="1330" cy="300" rx="2.5" ry="2.1" fill="#fff" opacity="0.25" filter="url(#blur1)"/>
<ellipse cx="1300" cy="370" rx="6.4" ry="5.2" fill="#fff" opacity="0.06" filter="url(#blur2)"/>
<ellipse cx="1300" cy="370" rx="3.4" ry="2.8" fill="#fff" opacity="0.25" filter="url(#blur1)"/>
<ellipse cx="1340" cy="390" rx="6.4" ry="5.2" fill="#fff" opacity="0.05" filter="url(#blur2)"/>
<ellipse cx="1340" cy="390" rx="3.4" ry="2.8" fill="#fff" opacity="0.20" filter="url(#blur1)"/>
<ellipse cx="1120" cy="300" rx="3.2" ry="2.6" fill="#fff" opacity="0.07" filter="url(#blur2)"/>
<ellipse cx="1120" cy="300" rx="1.7" ry="1.4" fill="#fff" opacity="0.30" filter="url(#blur1)"/>
<ellipse cx="1090" cy="320" rx="3.2" ry="2.6" fill="#fff" opacity="0.07" filter="url(#blur2)"/>
<ellipse cx="1090" cy="320" rx="1.7" ry="1.4" fill="#fff" opacity="0.30" filter="url(#blur1)"/>
<ellipse cx="1268" cy="189" rx="11.2" ry="9.1" fill="#fff" opacity="0.25" filter="url(#blur2)"/>
<ellipse cx="1268" cy="189" rx="6.0" ry="4.9" fill="#fff" opacity="1.00" filter="url(#blur1)"/>
<ellipse cx="1262" cy="256" rx="12.8" ry="10.4" fill="#fff" opacity="0.25" filter="url(#blur2)"/>
<ellipse cx="1262" cy="256" rx="6.8" ry="5.6" fill="#fff" opacity="1.00" filter="url(#blur1)"/>
<ellipse cx="1290" cy="200" rx="6.4" ry="5.2" fill="#fff" opacity="0.20" filter="url(#blur2)"/>
<ellipse cx="1290" cy="200" rx="3.4" ry="2.8" fill="#fff" opacity="0.80" filter="url(#blur1)"/>
<ellipse cx="1245" cy="250" rx="6.4" ry="5.2" fill="#fff" opacity="0.17" filter="url(#blur2)"/>
<ellipse cx="1245" cy="250" rx="3.4" ry="2.8" fill="#fff" opacity="0.70" filter="url(#blur1)"/>
</g>
<path d="M1206.8,219.8 C1206.9,219.5 1205.5,218.8 1207.5,218.1 C1209.5,217.4 1214.8,216.5 1218.6,215.6 C1222.4,214.7 1227.7,213.9 1230.4,212.7 C1233.1,211.5 1233.3,209.9 1234.8,208.3 C1236.3,206.7 1237.6,204.7 1239.3,203.1 C1241.0,201.5 1242.5,200.0 1245.2,198.7 C1247.9,197.3 1251.4,195.8 1255.5,195.0 C1259.6,194.2 1265.9,193.9 1270.0,194.0 C1274.1,194.1 1276.8,194.5 1280.0,195.5 C1283.2,196.5 1286.3,198.0 1289.0,200.0 C1291.7,202.0 1294.8,206.2 1296.0,207.5 L1297.5,206.8 L1496,206.8 L1496,235 L1299.8,235 L1299.8,234.5 C1298.6,235.7 1295.5,239.4 1292.7,241.4 C1289.9,243.4 1286.8,245.3 1283.0,246.3 C1279.2,247.3 1274.6,247.6 1270.0,247.5 C1265.4,247.4 1259.6,246.9 1255.5,245.9 C1251.4,244.9 1248.4,243.4 1245.2,241.4 C1242.0,239.4 1238.8,236.3 1236.3,234.1 C1233.8,231.9 1233.4,229.8 1230.4,228.2 C1227.5,226.6 1222.4,225.5 1218.6,224.5 C1214.8,223.5 1209.5,222.9 1207.5,222.3 C1205.5,221.7 1206.9,221.2 1206.8,221.0 Z" fill="#000" stroke="#000" stroke-width="0.6"/>
<path d="M1268.4,164.8 A60,60 0 0 1 1268.4,284.8" fill="none" stroke="#f4f4f4" stroke-width="1.6"/>
<path d="M1268.4,158.3 A66.5,66.5 0 0 1 1268.4,291.3" fill="none" stroke="#f4f4f4" stroke-width="1.6" stroke-dasharray="9.7 2.8 1000"/>
<path d="M1268.4,149.3 A75.5,75.5 0 0 1 1268.4,300.3" fill="none" stroke="#f4f4f4" stroke-width="1.6"/>
<path d="M1268.4,142.1 A82.7,82.7 0 0 1 1268.4,307.5" fill="none" stroke="#f4f4f4" stroke-width="1.6"/>
<path d="M1268.4,134.4 A90.4,90.4 0 0 1 1268.4,315.2" fill="none" stroke="#f4f4f4" stroke-width="1.6"/>
<path d="M1268.4,123.0 A101.8,101.8 0 0 1 1268.4,326.6" fill="none" stroke="#f4f4f4" stroke-width="1.6" stroke-dasharray="9.7 4 1000"/>
<path d="M1283.9,195.7 A33,33 0 0 1 1267.2,257.8" fill="none" stroke="#f4f4f4" stroke-width="1.6"/>
<line x1="1268.75" y1="189" x2="1396" y2="78" stroke="#d42020" stroke-width="1.5"/>
<line x1="1303.75" y1="176.6" x2="1408.4" y2="128" stroke="#d42020" stroke-width="1.5"/>
<line x1="1327.2" y1="187.5" x2="1414.7" y2="170.3" stroke="#d42020" stroke-width="1.5"/>
<line x1="1345" y1="214" x2="1414.7" y2="201.6" stroke="#d42020" stroke-width="1.5"/>
<line x1="1353.75" y1="234.4" x2="1425.6" y2="254.7" stroke="#d42020" stroke-width="1.5"/>
<line x1="1352.2" y1="265" x2="1398.4" y2="308.75" stroke="#d42020" stroke-width="1.5"/>
<line x1="1337.5" y1="300" x2="1355.3" y2="353" stroke="#d42020" stroke-width="1.5"/>
</g>
<text x="1398.92" y="79.65" font-size="14.78" textLength="38.46" lengthAdjust="spacingAndGlyphs" fill="#fff">(100)</text>
<text x="1380.52" y="123.29" font-size="15.55" textLength="81.86" lengthAdjust="spacingAndGlyphs" fill="#fff">(110)/(101)</text>
<text x="1415.51" y="171.71" font-size="15.44" textLength="39.09" lengthAdjust="spacingAndGlyphs" fill="#fff">(200)</text>
<text x="1415.55" y="207.69" font-size="15.55" textLength="37.21" lengthAdjust="spacingAndGlyphs" fill="#fff">(111)</text>
<text x="1430.51" y="259.19" font-size="15.55" textLength="39.09" lengthAdjust="spacingAndGlyphs" fill="#fff">(201)</text>
<text x="1402.20" y="319.28" font-size="15.11" textLength="39.19" lengthAdjust="spacingAndGlyphs" fill="#fff">(210)</text>
<text x="1359.21" y="360.57" font-size="16.10" textLength="39.09" lengthAdjust="spacingAndGlyphs" fill="#fff">(300)</text>
<text x="1060.09" y="61.73" font-size="62.31" textLength="50.14" lengthAdjust="spacingAndGlyphs" fill="#fff">c)</text>
<rect x="92.5" y="473.6" width="1400.3" height="466.6" fill="none" stroke="#000" stroke-width="2.8"/>
<line x1="92" y1="547.4" x2="107" y2="547.4" stroke="#000" stroke-width="2.8"/>
<line x1="92" y1="640" x2="107" y2="640" stroke="#000" stroke-width="2.8"/>
<line x1="92" y1="732.8" x2="107" y2="732.8" stroke="#000" stroke-width="2.8"/>
<line x1="92" y1="825.5" x2="107" y2="825.5" stroke="#000" stroke-width="2.8"/>
<line x1="92" y1="918.4" x2="107" y2="918.4" stroke="#000" stroke-width="2.8"/>
<line x1="481.2" y1="940" x2="481.2" y2="924.6" stroke="#000" stroke-width="2.8"/>
<line x1="870.4" y1="940" x2="870.4" y2="924.6" stroke="#000" stroke-width="2.8"/>
<line x1="1259.6" y1="940" x2="1259.6" y2="924.6" stroke="#000" stroke-width="2.8"/>
<line x1="286.6" y1="940" x2="286.6" y2="932" stroke="#000" stroke-width="2.8"/>
<line x1="675.8" y1="940" x2="675.8" y2="932" stroke="#000" stroke-width="2.8"/>
<line x1="1065.0" y1="940" x2="1065.0" y2="932" stroke="#000" stroke-width="2.8"/>
<line x1="1454.2" y1="940" x2="1454.2" y2="932" stroke="#000" stroke-width="2.8"/>
<path d="M98.4,918.2 L99.5,909.5 L100.7,899.7 L102.5,896.9 L104.2,897.6 L106.2,902.3 L108.5,900.8 L110.8,895.0 L112.6,890.8 L114.3,895.9 L116.0,902.9 L118.9,908.9 L122.3,911.2 L126.0,910.5 L129.0,907.2 L132.0,905.1 L134.8,902.9 L136.3,899.2 L137.1,890.1 L138.6,849.8 L140.4,815.4 L141.4,738.3 L142.5,670.5 L143.5,605.7 L144.3,547.5 L144.9,546.4 L145.7,569.7 L147.2,606.5 L148.0,669.5 L148.8,739.1 L149.8,780.2 L150.7,814.5 L151.8,845.1 L153.1,870.8 L154.3,887.3 L155.5,899.6 L157.9,910.3 L159.5,907.9 L161.5,902.2 L163.5,898.6 L165.6,894.4 L167.0,887.7 L168.2,873.4 L169.6,846.6 L171.2,821.6 L172.8,808.4 L174.4,822.0 L175.7,846.9 L177.0,873.3 L178.3,894.7 L179.7,904.2 L181.5,907.9 L185.0,909.9 L190.0,911.2 L195.0,910.0 L200.0,909.8 L203.5,907.3 L206.5,903.3 L208.7,894.4 L210.5,887.6 L211.8,886.6 L213.3,889.7 L215.0,899.3 L216.8,905.1 L218.5,906.6 L221.0,904.9 L224.0,904.3 L227.0,904.9 L230.0,906.0 L232.5,906.5 L234.5,899.3 L236.3,885.3 L238.0,868.2 L239.7,852.7 L241.2,844.5 L242.5,841.7 L244.0,844.8 L245.8,854.3 L247.5,863.3 L249.3,877.9 L251.0,889.5 L252.8,899.4 L254.6,906.3 L256.6,911.9 L259.0,913.0 L263.0,913.9 L265.0,914.1 L266.6,914.9 L268.2,913.7 L269.8,914.2 L271.4,914.4 L273.0,914.9 L274.6,914.8 L276.2,914.8 L277.8,914.0 L279.4,914.2 L281.0,914.1 L282.6,914.9 L284.2,915.0 L285.8,913.8 L287.4,913.8 L289.0,913.9 L290.6,913.9 L292.2,914.3 L293.8,914.4 L295.4,913.9 L297.0,913.6 L298.6,914.2 L300.2,914.1 L301.8,914.4 L303.4,915.0 L305.0,914.6 L306.6,914.3 L308.2,914.5 L309.8,914.6 L311.4,913.6 L313.0,914.9 L314.6,914.7 L316.2,914.9 L317.8,914.7 L319.4,914.1 L321.0,914.1 L322.6,913.7 L324.2,914.5 L325.8,913.6 L327.4,913.7 L329.0,913.9 L330.6,913.8 L332.2,914.1 L333.8,913.6 L335.4,913.6 L337.0,913.8 L338.6,913.7 L340.2,914.1 L341.8,913.6 L343.4,914.9 L345.0,914.5 L346.6,913.8 L348.2,913.9 L349.8,914.1 L351.4,914.1 L353.0,913.7 L354.6,914.8 L356.2,915.0 L357.8,914.2 L359.4,914.3 L361.0,913.7 L362.6,913.7 L364.2,914.1 L365.8,913.9 L367.4,914.8 L369.0,913.8 L370.6,913.6 L372.2,915.0 L373.8,914.3 L375.4,913.8 L377.0,914.4 L378.6,913.6 L380.2,914.3 L381.8,915.0 L383.4,914.8 L385.0,914.6 L386.6,913.9 L388.2,914.1 L389.8,913.8 L391.4,914.7 L393.0,914.3 L394.6,914.7 L396.2,914.0 L397.8,913.9 L399.4,914.8 L401.0,915.0 L402.6,914.8 L404.2,914.8 L405.8,914.8 L407.4,914.7 L409.0,913.9 L410.6,914.3 L412.2,914.1 L413.8,913.6 L415.4,913.6 L417.0,914.0 L418.6,913.9 L420.2,914.6 L421.8,915.0 L423.4,914.2 L425.0,915.0 L426.6,915.0 L428.2,915.0 L429.8,914.1 L431.4,913.9 L433.0,913.9 L434.6,913.8 L436.2,913.9 L437.8,914.5 L439.4,914.9 L441.0,914.8 L442.6,914.3 L444.2,914.5 L445.8,914.7 L447.4,913.7 L449.0,914.5 L450.6,914.9 L452.2,914.7 L453.8,914.7 L455.4,914.3 L457.0,913.8 L458.6,914.7 L460.2,914.0 L461.8,914.8 L463.4,915.0 L465.0,914.1 L466.6,914.2 L468.2,915.0 L469.8,914.6 L471.4,913.8 L473.0,913.7 L474.6,913.8 L476.2,914.9 L477.8,914.8 L479.4,913.8 L481.0,914.8 L482.6,915.0 L484.2,914.5 L485.8,914.1 L487.4,914.4 L489.0,913.7 L490.6,913.6 L492.2,915.0 L493.8,914.5 L495.4,914.3 L497.0,915.0 L498.6,914.2 L500.2,914.9 L501.8,914.8 L503.4,913.9 L505.0,913.9 L506.6,914.0 L508.2,913.9 L509.8,914.4 L511.4,913.9 L513.0,914.2 L514.6,913.7 L516.2,914.9 L517.8,914.1 L519.4,914.2 L521.0,914.4 L522.6,914.9 L524.2,914.2 L525.8,914.9 L527.4,914.3 L529.0,914.3 L530.6,914.3 L532.2,913.6 L533.8,914.2 L535.4,913.8 L537.0,913.6 L538.6,914.7 L540.2,913.8 L541.8,914.3 L543.4,914.6 L545.0,914.4 L546.6,914.0 L548.2,914.3 L549.8,914.4 L551.4,914.7 L553.0,913.7 L554.6,914.4 L556.2,913.9 L557.8,914.0 L559.4,914.7 L561.0,914.3 L562.6,914.4 L564.2,914.7 L565.8,914.9 L567.4,914.2 L569.0,914.5 L570.6,914.3 L572.2,914.3 L573.8,914.6 L575.4,914.2 L577.0,914.3 L578.6,914.3 L580.2,915.0 L581.8,914.6 L583.4,914.9 L585.0,915.0 L586.6,913.9 L588.2,914.4 L589.8,915.0 L591.4,914.8 L593.0,913.8 L594.6,913.7 L596.2,914.2 L597.8,913.7 L599.4,913.9 L601.0,913.7 L602.6,914.6 L604.2,914.7 L605.8,914.9 L607.4,913.8 L609.0,914.6 L610.6,914.5 L612.2,913.8 L613.8,914.9 L615.4,915.0 L617.0,913.9 L618.6,915.0 L620.2,914.1 L621.8,914.3 L623.4,915.0 L625.0,914.8 L626.0,913.7 L630.0,913.5 L634.0,912.8 L638.0,913.4 L642.0,913.8 L644.0,914.0 L645.6,914.6 L647.2,913.6 L648.8,914.4 L650.4,914.2 L652.0,913.6 L653.6,914.0 L655.2,914.5 L656.8,914.3 L658.4,913.6 L660.0,915.0 L661.6,914.7 L662.0,914.2 L664.5,910.9 L666.5,906.6 L668.5,902.8 L670.5,902.7 L672.3,903.7 L674.0,908.4 L676.0,912.4 L679.0,914.4 L684.0,914.7 L686.0,913.8 L687.6,913.6 L689.2,914.8 L690.8,914.2 L692.4,914.4 L694.0,913.4 L695.6,913.3 L696.0,914.1 L699.0,913.2 L701.5,911.4 L703.8,909.7 L705.3,904.2 L706.4,897.5 L707.5,887.4 L708.8,868.5 L710.4,845.0 L711.4,822.5 L712.3,797.9 L713.5,774.8 L714.6,751.1 L715.5,730.6 L716.2,716.7 L716.9,712.2 L717.7,714.0 L718.6,721.6 L719.8,737.4 L721.1,750.5 L722.8,774.3 L724.5,797.6 L725.8,821.7 L727.0,845.4 L728.2,868.4 L729.3,889.7 L730.3,903.0 L731.5,909.0 L733.5,912.1 L736.0,912.1 L739.0,911.6 L742.0,909.8 L745.0,910.3 L748.0,910.6 L751.0,911.0 L755.0,912.5 L759.0,913.5 L763.0,911.4 L767.0,911.3 L771.0,908.9 L775.0,906.8 L779.0,904.8 L782.0,901.8 L784.3,900.3 L786.3,900.1 L788.0,901.7 L789.7,903.8 L791.5,909.0 L793.5,912.3 L796.0,914.4 L799.0,915.2 L803.0,915.5 L806.0,915.1 L807.6,915.2 L809.2,915.2 L810.8,916.2 L812.4,915.4 L814.0,915.3 L815.6,915.2 L817.2,916.3 L818.8,916.4 L820.4,916.1 L822.0,915.5 L823.6,915.4 L825.2,915.5 L826.8,915.8 L828.4,915.3 L830.0,915.8 L831.6,915.5 L833.2,916.5 L834.8,916.6 L836.4,915.9 L838.0,915.5 L839.6,916.6 L841.2,915.6 L842.8,915.6 L844.4,915.1 L846.0,915.7 L847.6,915.8 L849.2,915.9 L850.8,915.4 L852.4,915.9 L854.0,915.1 L855.6,915.5 L857.2,915.3 L858.8,915.7 L860.4,915.2 L862.0,915.2 L863.6,915.6 L865.2,915.5 L866.8,916.0 L868.4,915.9 L870.0,916.3 L871.6,916.1 L873.2,916.2 L874.8,916.5 L876.4,915.8 L878.0,915.7 L879.6,916.6 L881.2,915.4 L882.8,916.3 L884.4,916.1 L886.0,915.2 L887.6,916.4 L889.2,916.5 L890.8,916.1 L892.4,916.3 L894.0,916.4 L895.6,915.4 L897.2,916.0 L898.8,916.0 L900.4,916.5 L902.0,916.4 L903.6,916.5 L905.2,916.1 L906.8,916.6 L908.4,916.2 L910.0,916.3 L911.6,915.6 L913.2,915.3 L914.8,915.4 L916.4,915.8 L918.0,915.4 L919.6,916.5 L921.2,916.1 L922.8,916.2 L924.4,916.2 L926.0,916.3 L927.6,916.0 L929.2,915.3 L930.8,916.5 L932.4,916.4 L934.0,916.0 L935.6,916.1 L937.2,916.3 L938.8,915.4 L940.4,916.4 L942.0,915.7 L943.6,915.4 L945.2,915.7 L946.8,916.4 L948.4,915.6 L950.0,916.4 L951.6,916.8 L953.2,916.0 L954.8,915.9 L956.4,916.0 L958.0,916.3 L959.6,916.5 L961.2,916.2 L962.8,916.3 L964.4,915.4 L966.0,915.5 L967.6,915.7 L969.2,916.4 L970.8,915.8 L972.4,916.2 L974.0,915.3 L975.6,915.4 L977.2,915.7 L978.8,916.3 L980.4,916.4 L982.0,916.4 L983.6,915.8 L985.2,916.1 L986.8,916.0 L988.4,916.1 L990.0,915.5 L991.6,916.7 L993.2,915.7 L994.8,916.8 L996.4,916.8 L998.0,915.4 L999.6,916.1 L1001.2,916.6 L1002.8,916.8 L1004.4,916.1 L1006.0,915.8 L1007.6,915.7 L1009.2,916.8 L1010.8,915.7 L1012.4,916.3 L1014.0,915.6 L1015.6,916.2 L1017.2,916.8 L1018.8,915.6 L1020.4,916.6 L1022.0,916.2 L1023.6,916.7 L1025.2,916.5 L1026.8,915.8 L1028.4,916.8 L1030.0,916.2 L1031.6,915.5 L1033.2,915.4 L1034.8,916.2 L1036.4,916.1 L1038.0,915.9 L1039.6,915.6 L1041.2,916.0 L1042.8,915.9 L1044.4,916.7 L1046.0,915.5 L1047.6,916.6 L1049.2,916.7 L1050.8,915.6 L1052.4,916.8 L1054.0,916.5 L1055.6,916.8 L1057.2,915.9 L1058.8,916.0 L1060.4,916.1 L1062.0,917.0 L1063.6,916.4 L1065.2,916.0 L1066.8,916.1 L1068.4,915.9 L1070.0,915.6 L1071.6,915.6 L1073.2,916.7 L1074.8,915.9 L1076.4,916.9 L1078.0,915.9 L1079.6,915.9 L1081.2,916.3 L1082.8,915.8 L1084.4,916.1 L1086.0,916.9 L1087.6,916.8 L1089.2,916.7 L1090.8,916.5 L1092.4,916.9 L1094.0,916.9 L1095.6,916.4 L1097.2,916.6 L1098.8,915.6 L1100.4,916.6 L1102.0,916.2 L1103.6,916.7 L1105.2,916.5 L1106.8,916.0 L1108.4,915.6 L1110.0,916.9 L1111.6,915.7 L1113.2,916.3 L1114.8,916.1 L1116.4,916.0 L1118.0,916.7 L1119.6,917.0 L1121.2,916.0 L1122.8,916.6 L1124.4,916.0 L1126.0,916.4 L1127.6,916.2 L1129.2,915.8 L1130.8,915.8 L1132.4,915.9 L1134.0,917.0 L1135.6,916.3 L1137.2,915.9 L1138.8,917.0 L1140.4,917.1 L1142.0,916.3 L1143.6,915.8 L1145.2,915.9 L1146.8,915.8 L1148.4,916.1 L1150.0,915.8 L1151.6,916.0 L1153.2,916.0 L1154.8,916.5 L1156.4,917.0 L1158.0,916.8 L1159.6,916.3 L1161.2,916.3 L1162.8,916.4 L1164.4,916.2 L1166.0,916.2 L1167.6,915.7 L1169.2,916.1 L1170.8,917.1 L1172.4,915.8 L1174.0,916.4 L1175.6,916.6 L1177.2,917.0 L1178.8,916.0 L1180.4,916.1 L1182.0,916.0 L1183.6,916.3 L1185.2,916.3 L1186.8,917.1 L1188.4,917.0 L1190.0,917.0 L1191.6,915.7 L1193.2,915.7 L1194.8,916.8 L1196.4,917.0 L1198.0,916.4 L1199.6,916.6 L1201.2,915.7 L1202.8,916.3 L1204.4,917.1 L1206.0,917.0 L1207.6,917.0 L1209.2,917.2 L1210.8,916.1 L1212.4,915.9 L1214.0,916.0 L1215.6,916.5 L1217.2,916.8 L1218.8,917.1 L1220.4,916.8 L1222.0,916.7 L1223.6,916.9 L1225.2,916.4 L1226.8,916.6 L1228.0,915.8 L1232.0,916.4 L1236.0,914.1 L1239.5,912.1 L1242.0,907.0 L1244.0,900.7 L1245.8,895.2 L1247.7,891.1 L1249.7,887.7 L1251.0,883.8 L1252.0,881.4 L1253.2,881.6 L1254.8,883.2 L1256.8,886.1 L1258.8,889.8 L1261.0,894.1 L1262.8,899.7 L1264.5,903.3 L1266.3,907.7 L1268.3,911.4 L1270.5,915.0 L1273.0,916.4 L1277.0,917.6 L1280.0,917.0 L1281.6,916.6 L1283.2,916.6 L1284.8,917.7 L1286.4,917.3 L1288.0,916.7 L1289.6,916.3 L1291.2,917.0 L1292.8,917.3 L1294.4,916.9 L1296.0,916.6 L1297.6,917.3 L1299.2,917.6 L1300.8,916.6 L1302.4,916.3 L1304.0,916.8 L1305.6,916.9 L1307.2,917.3 L1308.8,916.5 L1310.4,917.4 L1312.0,917.4 L1313.6,917.0 L1315.2,916.6 L1316.8,917.7 L1318.4,916.7 L1320.0,917.5 L1321.6,916.6 L1323.2,916.6 L1324.8,917.4 L1326.4,916.7 L1328.0,917.7 L1329.6,917.0 L1331.2,916.5 L1332.8,916.6 L1334.4,916.9 L1336.0,917.2 L1337.6,917.7 L1339.2,916.5 L1340.8,916.8 L1342.4,916.6 L1344.0,917.7 L1345.6,916.5 L1347.2,916.3 L1348.8,916.3 L1350.4,916.8 L1352.0,917.6 L1352.0,917.6 L1358.0,916.9 L1364.0,916.7 L1370.0,915.8 L1375.0,914.1 L1380.0,912.9 L1384.0,912.9 L1387.5,911.4 L1390.3,909.6 L1392.5,910.4 L1394.5,910.4 L1397.0,911.4 L1400.0,912.5 L1404.0,913.5 L1408.0,914.1 L1412.0,914.9 L1416.0,915.2 L1419.0,915.7 L1422.0,914.2 L1425.0,916.3 L1428.0,916.2 L1432.0,917.1 L1436.0,918.1 L1440.0,918.1 L1441.6,917.5 L1443.2,916.9 L1444.8,917.6 L1446.4,917.4 L1448.0,918.2 L1449.6,917.1 L1451.2,917.4 L1452.8,918.2 L1454.4,916.9 L1456.0,917.5 L1457.6,918.1 L1459.2,918.0 L1460.8,916.9 L1462.4,916.9 L1464.0,916.9 L1465.6,918.2 L1467.2,917.2 L1468.8,918.0 L1470.4,918.2 L1472.0,917.4 L1473.6,917.3 L1475.2,918.3 L1476.8,917.8 L1478.4,917.2 L1480.0,917.9 L1481.6,917.3 L1483.2,917.3 L1484.8,916.9 L1486.4,918.0 L1488.0,918.2 L1489.6,917.8 L1491.2,918.3 L1491.5,916.9" fill="none" stroke="#000" stroke-width="3.4" stroke-linejoin="round" stroke-linecap="round"/>
<line x1="112.7" y1="873.5" x2="112.7" y2="938.5" stroke="#f00" stroke-width="2.9" stroke-linecap="round"/>
<line x1="143.9" y1="522.6" x2="143.9" y2="938.5" stroke="#f00" stroke-width="2.9" stroke-linecap="round"/>
<line x1="173.2" y1="789.5" x2="173.2" y2="938.5" stroke="#f00" stroke-width="2.9" stroke-linecap="round"/>
<line x1="210.6" y1="870.3" x2="210.6" y2="938.5" stroke="#f00" stroke-width="2.9" stroke-linecap="round"/>
<line x1="226.8" y1="893" x2="226.8" y2="938.5" stroke="#f00" stroke-width="2.9" stroke-linecap="round"/>
<line x1="243.6" y1="827.4" x2="243.6" y2="938.5" stroke="#f00" stroke-width="2.9" stroke-linecap="round"/>
<line x1="634.8" y1="894.8" x2="634.8" y2="938.5" stroke="#f00" stroke-width="2.9" stroke-linecap="round"/>
<line x1="668.6" y1="881.2" x2="668.6" y2="938.5" stroke="#f00" stroke-width="2.9" stroke-linecap="round"/>
<line x1="717.4" y1="687" x2="717.4" y2="938.5" stroke="#f00" stroke-width="2.9" stroke-linecap="round"/>
<line x1="749.6" y1="892.5" x2="749.6" y2="938.5" stroke="#f00" stroke-width="2.9" stroke-linecap="round"/>
<line x1="785.9" y1="870.3" x2="785.9" y2="938.5" stroke="#f00" stroke-width="2.9" stroke-linecap="round"/>
<line x1="1254.5" y1="867.4" x2="1254.5" y2="938.5" stroke="#f00" stroke-width="2.9" stroke-linecap="round"/>
<line x1="1395.6" y1="892.4" x2="1395.6" y2="938.5" stroke="#f00" stroke-width="2.9" stroke-linecap="round"/>
<line x1="1417.9" y1="903" x2="1417.9" y2="938.5" stroke="#f00" stroke-width="2.9" stroke-linecap="round"/>
<text x="94.91" y="864.10" font-size="36.40" textLength="27.94" lengthAdjust="spacingAndGlyphs" fill="#000" >C</text>
<text x="132.11" y="514.80" font-size="41.69" textLength="24.84" lengthAdjust="spacingAndGlyphs" fill="#000" >F</text>
<text x="159.14" y="768.30" font-size="41.08" textLength="48.76" lengthAdjust="spacingAndGlyphs" fill="#000" >Na</text>
<text x="187.48" y="865.50" font-size="34.30" textLength="44.84" lengthAdjust="spacingAndGlyphs" fill="#000" >Yb</text>
<text x="228.50" y="809.60" font-size="39.86" textLength="28.76" lengthAdjust="spacingAndGlyphs" fill="#000" >Y</text>
<text x="602.19" y="890.70" font-size="36.81" textLength="39.78" lengthAdjust="spacingAndGlyphs" fill="#000" >Er</text>
<text x="649.76" y="870.30" font-size="34.73" textLength="46.30" lengthAdjust="spacingAndGlyphs" fill="#000" >Yb</text>
<text x="696.65" y="671.30" font-size="40.78" textLength="51.13" lengthAdjust="spacingAndGlyphs" fill="#000" >Cu</text>
<text x="735.46" y="884.90" font-size="34.30" textLength="46.30" lengthAdjust="spacingAndGlyphs" fill="#000" >Yb</text>
<text x="787.56" y="869.40" font-size="40.33" textLength="50.91" lengthAdjust="spacingAndGlyphs" fill="#000" >Cu</text>
<text x="1238.26" y="854.80" font-size="40.93" textLength="30.44" lengthAdjust="spacingAndGlyphs" fill="#000" >Y</text>
<text x="1380.28" y="886.40" font-size="40.62" textLength="29.39" lengthAdjust="spacingAndGlyphs" fill="#000" >Y</text>
<text x="80.85" y="990.00" font-size="43.61" textLength="21.71" lengthAdjust="spacingAndGlyphs" fill="#000" >0</text>
<text x="469.45" y="990.00" font-size="42.76" textLength="21.85" lengthAdjust="spacingAndGlyphs" fill="#000" >5</text>
<text x="848.18" y="990.50" font-size="44.36" textLength="44.00" lengthAdjust="spacingAndGlyphs" fill="#000" >10</text>
<text x="1237.36" y="990.00" font-size="43.32" textLength="44.27" lengthAdjust="spacingAndGlyphs" fill="#000" >15</text>
<text x="655.64" y="1042.40" font-size="44.53" textLength="257.13" lengthAdjust="spacingAndGlyphs" fill="#000" >Energy (keV)</text>
<text transform="translate(41.2,875.9) rotate(-90)" x="0" y="0" font-size="44.90" textLength="290.56" lengthAdjust="spacingAndGlyphs">Intensity (a.u)</text>
<text x="1369.17" y="551.13" font-size="73.12" textLength="66.52" lengthAdjust="spacingAndGlyphs" fill="#000">d)</text>
<rect x="800" y="491.8" width="516.2" height="310.7" fill="#fff" stroke="#1a1a1a" stroke-width="1.6"/>
<line x1="944.2" y1="491.8" x2="944.2" y2="802.5" stroke="#1a1a1a" stroke-width="1.6"/>
<line x1="1131.2" y1="491.8" x2="1131.2" y2="802.5" stroke="#1a1a1a" stroke-width="1.6"/>
<line x1="800" y1="544.4" x2="1316.2" y2="544.4" stroke="#1a1a1a" stroke-width="1.6"/>
<line x1="800" y1="595.3" x2="1316.2" y2="595.3" stroke="#1a1a1a" stroke-width="1.6"/>
<line x1="800" y1="647.5" x2="1316.2" y2="647.5" stroke="#1a1a1a" stroke-width="1.6"/>
<line x1="800" y1="699.2" x2="1316.2" y2="699.2" stroke="#1a1a1a" stroke-width="1.6"/>
<line x1="800" y1="751.2" x2="1316.2" y2="751.2" stroke="#1a1a1a" stroke-width="1.6"/>
<text x="872.0" y="520.2" font-size="27.3" text-anchor="middle" textLength="113.8" lengthAdjust="spacingAndGlyphs">Elements</text>
<text x="1036.3" y="520.2" font-size="27.3" text-anchor="middle" textLength="172.0" lengthAdjust="spacingAndGlyphs">Calculated %</text>
<text x="1226.4" y="520.2" font-size="27.3" text-anchor="middle" textLength="162.2" lengthAdjust="spacingAndGlyphs">Measured %</text>
<text x="872.1" y="571.0" font-size="27.3" text-anchor="middle" textLength="17.8" lengthAdjust="spacingAndGlyphs">F</text>
<text x="1117.0" y="571.0" font-size="27.3" text-anchor="end" textLength="65.4" lengthAdjust="spacingAndGlyphs">66.67</text>
<text x="1303.5" y="571.0" font-size="27.3" text-anchor="end" textLength="65.4" lengthAdjust="spacingAndGlyphs">60.63</text>
<text x="872.1" y="622.8" font-size="27.3" text-anchor="middle" textLength="35.5" lengthAdjust="spacingAndGlyphs">Na</text>
<text x="1117.0" y="622.8" font-size="27.3" text-anchor="end" textLength="65.4" lengthAdjust="spacingAndGlyphs">16.67</text>
<text x="1303.5" y="622.8" font-size="27.3" text-anchor="end" textLength="65.4" lengthAdjust="spacingAndGlyphs">17.95</text>
<text x="872.1" y="674.3" font-size="27.3" text-anchor="middle" textLength="21.0" lengthAdjust="spacingAndGlyphs">Y</text>
<text x="1117.0" y="674.3" font-size="27.3" text-anchor="end" textLength="65.4" lengthAdjust="spacingAndGlyphs">13.16</text>
<text x="1303.5" y="674.3" font-size="27.3" text-anchor="end" textLength="65.4" lengthAdjust="spacingAndGlyphs">14.34</text>
<text x="872.1" y="726.2" font-size="27.3" text-anchor="middle" textLength="37.2" lengthAdjust="spacingAndGlyphs">Yb</text>
<text x="1117.0" y="726.2" font-size="27.3" text-anchor="end" textLength="50.9" lengthAdjust="spacingAndGlyphs">3.17</text>
<text x="1303.5" y="726.2" font-size="27.3" text-anchor="end" textLength="50.9" lengthAdjust="spacingAndGlyphs">6.97</text>
<text x="872.1" y="778.4" font-size="27.3" text-anchor="middle" textLength="32.3" lengthAdjust="spacingAndGlyphs">Er</text>
<text x="1117.0" y="778.4" font-size="27.3" text-anchor="end" textLength="50.9" lengthAdjust="spacingAndGlyphs">0.33</text>
<text x="1303.5" y="778.4" font-size="27.3" text-anchor="end" textLength="50.9" lengthAdjust="spacingAndGlyphs">0.11</text>
</svg></body></html>
